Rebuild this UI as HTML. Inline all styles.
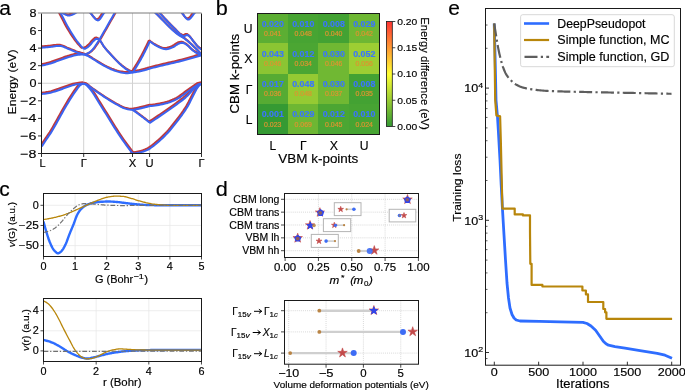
<!DOCTYPE html>
<html><head><meta charset="utf-8"><title>Figure</title>
<style>
html,body{margin:0;padding:0;background:#fff;overflow:hidden;}
svg{display:block;font-family:"Liberation Sans", sans-serif;will-change:transform;}
text{stroke:#000;stroke-width:0.16px;}
</style></head>
<body>
<svg width="685" height="390" viewBox="0 0 685 390">
<rect x="0" y="0" width="685" height="390" fill="#fff"/>
<defs><clipPath id="ca"><rect x="41.50" y="13.00" width="160.00" height="140.50"/></clipPath></defs>
<line x1="83.70" y1="13.00" x2="83.70" y2="153.50" stroke="#d2d2d2" stroke-width="1.0"/>
<line x1="132.50" y1="13.00" x2="132.50" y2="153.50" stroke="#d2d2d2" stroke-width="1.0"/>
<line x1="149.60" y1="13.00" x2="149.60" y2="153.50" stroke="#d2d2d2" stroke-width="1.0"/>
<line x1="41.50" y1="83.25" x2="201.50" y2="83.25" stroke="#d2d2d2" stroke-width="1.0"/>
<g clip-path="url(#ca)">
<path d="M40.95,145.29 L42.41,143.04 L43.86,140.81 L45.32,138.62 L46.77,136.50 L48.23,134.40 L49.68,132.22 L51.14,129.88 L52.59,127.41 L54.05,124.85 L55.50,122.24 L56.96,119.64 L58.41,117.06 L59.87,114.44 L61.32,111.81 L62.78,109.21 L64.23,106.67 L65.69,104.19 L67.14,101.77 L68.60,99.40 L70.05,97.09 L71.51,94.81 L72.96,92.58 L74.42,90.45 L75.87,88.45 L77.33,86.38 L78.78,84.59 L80.24,83.51 L81.69,82.82 L83.15,82.50" fill="none" stroke="#c0393b" stroke-width="2.1" stroke-linejoin="round" stroke-linecap="butt" stroke-linecap="round"/>
<path d="M40.95,92.77 L42.41,92.67 L43.86,92.51 L45.32,92.32 L46.77,92.09 L48.23,91.85 L49.68,91.56 L51.14,91.19 L52.59,90.76 L54.05,90.30 L55.50,89.82 L56.96,89.33 L58.41,88.86 L59.87,88.35 L61.32,87.81 L62.78,87.27 L64.23,86.74 L65.69,86.23 L67.14,85.75 L68.60,85.24 L70.05,84.72 L71.51,84.24 L72.96,83.80 L74.42,83.46 L75.87,83.21 L77.33,83.00 L78.78,82.81 L80.24,82.65 L81.69,82.55 L83.15,82.50" fill="none" stroke="#c0393b" stroke-width="2.1" stroke-linejoin="round" stroke-linecap="butt" stroke-linecap="round"/>
<path d="M84.95,83.00 L86.63,83.88 L88.32,85.33 L90.00,87.26 L91.68,89.25 L93.36,91.57 L95.05,94.16 L96.73,96.89 L98.41,99.68 L100.09,102.41 L101.78,105.11 L103.46,107.81 L105.14,110.49 L106.83,113.17 L108.51,115.86 L110.19,118.57 L111.87,121.31 L113.56,124.04 L115.24,126.74 L116.92,129.40 L118.61,131.99 L120.29,134.53 L121.97,137.03 L123.65,139.48 L125.34,141.88 L127.02,144.21 L128.70,146.48 L130.38,148.71 L132.07,150.87 L133.75,152.99" fill="none" stroke="#c0393b" stroke-width="2.1" stroke-linejoin="round" stroke-linecap="butt" stroke-linecap="round"/>
<path d="M131.95,152.49 L132.54,152.44 L133.13,152.39 L133.72,152.32 L134.31,152.25 L134.90,152.16 L135.49,152.06 L136.08,151.96 L136.67,151.85 L137.26,151.73 L137.85,151.60 L138.44,151.47 L139.03,151.34 L139.62,151.20 L140.21,151.05 L140.79,150.91 L141.38,150.74 L141.97,150.57 L142.56,150.37 L143.15,150.16 L143.74,149.94 L144.33,149.71 L144.92,149.47 L145.51,149.21 L146.10,148.94 L146.69,148.67 L147.28,148.38 L147.87,148.09 L148.46,147.79 L149.05,147.48 L149.05,147.31 L150.84,146.09 L152.63,144.78 L154.42,143.39 L156.21,141.90 L158.00,140.35 L159.79,138.72 L161.58,137.04 L163.37,135.30 L165.16,133.51 L166.95,131.65 L168.74,129.64 L170.53,127.51 L172.32,125.28 L174.11,123.00 L175.89,120.68 L177.68,118.37 L179.47,116.03 L181.26,113.63 L183.05,111.11 L184.84,108.44 L186.63,105.57 L188.42,102.29 L190.21,98.75 L192.00,95.21 L193.79,91.66 L195.58,88.10 L197.37,85.52 L199.16,83.69 L200.95,82.50" fill="none" stroke="#c0393b" stroke-width="2.1" stroke-linejoin="round" stroke-linecap="butt" stroke-linecap="round"/>
<path d="M83.15,82.50 L84.83,83.00 L86.52,83.75 L88.20,84.86 L89.88,86.26 L91.56,87.53 L93.25,88.77 L94.93,89.97 L96.61,91.12 L98.29,92.26 L99.98,93.39 L101.66,94.53 L103.34,95.66 L105.03,96.76 L106.71,97.84 L108.39,98.89 L110.07,99.94 L111.76,100.96 L113.44,101.95 L115.12,102.91 L116.81,103.82 L118.49,104.77 L120.17,105.71 L121.85,106.56 L123.54,107.25 L125.22,107.72 L126.90,108.13 L128.58,108.47 L130.27,108.72 L131.95,108.84 L131.95,108.84 L132.54,108.74 L133.13,108.62 L133.72,108.51 L134.31,108.40 L134.90,108.28 L135.49,108.16 L136.08,108.04 L136.67,107.92 L137.26,107.79 L137.85,107.67 L138.44,107.54 L139.03,107.41 L139.62,107.28 L140.21,107.14 L140.79,107.01 L141.38,106.87 L141.97,106.73 L142.56,106.59 L143.15,106.45 L143.74,106.30 L144.33,106.15 L144.92,106.00 L145.51,105.85 L146.10,105.69 L146.69,105.54 L147.28,105.38 L147.87,105.22 L148.46,105.06 L149.05,104.89 L149.05,104.89 L150.84,104.81 L152.63,104.65 L154.42,104.43 L156.21,104.15 L158.00,103.83 L159.79,103.47 L161.58,103.07 L163.37,102.66 L165.16,102.23 L166.95,101.76 L168.74,101.19 L170.53,100.52 L172.32,99.77 L174.11,98.95 L175.89,98.07 L177.68,97.07 L179.47,95.90 L181.26,94.62 L183.05,93.28 L184.84,91.94 L186.63,90.66 L188.42,89.38 L190.21,88.08 L192.00,86.79 L193.79,85.56 L195.58,84.35 L197.37,83.24 L199.16,82.72 L200.95,82.50" fill="none" stroke="#c0393b" stroke-width="2.1" stroke-linejoin="round" stroke-linecap="butt" stroke-linecap="round"/>
<path d="M131.95,108.84 L132.54,109.26 L133.13,109.67 L133.72,110.09 L134.31,110.51 L134.90,110.93 L135.49,111.35 L136.08,111.77 L136.67,112.20 L137.26,112.63 L137.85,113.06 L138.44,113.49 L139.03,113.93 L139.62,114.37 L140.21,114.81 L140.79,115.25 L141.38,115.69 L141.97,116.14 L142.56,116.59 L143.15,117.04 L143.74,117.49 L144.33,117.95 L144.92,118.40 L145.51,118.86 L146.10,119.32 L146.69,119.79 L147.28,120.25 L147.87,120.72 L148.46,121.19 L149.05,121.66 L149.05,121.66 L150.84,120.49 L152.63,119.31 L154.42,118.12 L156.21,116.92 L158.00,115.72 L159.79,114.51 L161.58,113.29 L163.37,112.06 L165.16,110.83 L166.95,109.60 L168.74,108.37 L170.53,107.13 L172.32,105.87 L174.11,104.59 L175.89,103.27 L177.68,101.92 L179.47,100.57 L181.26,99.19 L183.05,97.75 L184.84,96.23 L186.63,94.61 L188.42,92.76 L190.21,90.77 L192.00,88.80 L193.79,87.00 L195.58,85.20 L197.37,83.76 L199.16,82.95 L200.95,82.50" fill="none" stroke="#c0393b" stroke-width="2.1" stroke-linejoin="round" stroke-linecap="butt" stroke-linecap="round"/>
<path d="M83.15,187.88 L84.83,187.63 L86.52,187.27 L88.20,186.80 L89.88,186.23 L91.56,185.57 L93.25,184.82 L94.93,184.00 L96.61,183.10 L98.29,182.14 L99.98,181.13 L101.66,180.06 L103.34,178.96 L105.03,177.82 L106.71,176.65 L108.39,175.46 L110.07,174.23 L111.76,172.72 L113.44,170.93 L115.12,168.94 L116.81,166.83 L118.49,164.69 L120.17,162.59 L121.85,160.62 L123.54,158.86 L125.22,157.36 L126.90,156.00 L128.58,154.73 L130.27,153.56 L131.95,152.49" fill="none" stroke="#c0393b" stroke-width="2.1" stroke-linejoin="round" stroke-linecap="butt" stroke-linecap="round"/>
<path d="M40.95,64.41 L42.41,64.12 L43.86,63.80 L45.32,63.46 L46.77,63.10 L48.23,62.71 L49.68,62.30 L51.14,61.84 L52.59,61.34 L54.05,60.82 L55.50,60.28 L56.96,59.75 L58.41,59.22 L59.87,58.71 L61.32,58.18 L62.78,57.64 L64.23,57.11 L65.69,56.60 L67.14,56.13 L68.60,55.71 L70.05,55.28 L71.51,54.84 L72.96,54.43 L74.42,54.06 L75.87,53.76 L77.33,53.57 L78.78,53.48 L80.24,53.41 L81.69,53.36 L83.15,53.35" fill="none" stroke="#c0393b" stroke-width="2.1" stroke-linejoin="round" stroke-linecap="butt" stroke-linecap="round"/>
<path d="M40.95,46.50 L42.41,46.38 L43.86,46.26 L45.32,46.14 L46.77,46.01 L48.23,45.87 L49.68,45.73 L51.14,45.54 L52.59,45.33 L54.05,45.12 L55.50,44.94 L56.96,44.80 L58.41,44.74 L59.87,44.84 L61.32,45.18 L62.78,45.69 L64.23,46.31 L65.69,46.99 L67.14,47.64 L68.60,48.21 L70.05,48.77 L71.51,49.36 L72.96,49.96 L74.42,50.55 L75.87,51.12 L77.33,51.65 L78.78,52.12 L80.24,52.56 L81.69,52.97 L83.15,53.35" fill="none" stroke="#c0393b" stroke-width="2.1" stroke-linejoin="round" stroke-linecap="butt" stroke-linecap="round"/>
<path d="M40.00,-13.64 L41.46,-12.47 L42.91,-11.15 L44.37,-9.68 L45.82,-8.09 L47.28,-6.38 L48.73,-4.57 L50.19,-2.55 L51.64,-0.30 L53.10,2.12 L54.55,4.67 L56.01,7.29 L57.46,9.93 L58.92,12.55 L60.37,15.22 L61.83,18.03 L63.28,20.89 L64.74,23.71 L66.19,26.41 L67.65,28.91 L69.10,31.29 L70.56,33.61 L72.01,35.85 L73.47,38.00 L74.92,40.04 L76.38,41.95 L77.83,43.74 L79.29,45.39 L80.74,46.93 L82.20,48.35" fill="none" stroke="#c0393b" stroke-width="2.1" stroke-linejoin="round" stroke-linecap="butt" stroke-linecap="round"/>
<path d="M83.15,47.90 L84.83,47.34 L86.52,46.35 L88.20,44.91 L89.88,43.14 L91.56,40.96 L93.25,39.27 L94.93,37.87 L96.61,37.64 L98.29,38.50 L99.98,40.25 L101.66,43.05 L103.34,45.78 L105.03,47.90 L106.71,49.88 L108.39,51.77 L110.07,53.58 L111.76,55.37 L113.44,57.16 L115.12,58.95 L116.81,60.69 L118.49,62.36 L120.17,63.91 L121.85,65.33 L123.54,66.69 L125.22,67.93 L126.90,69.02 L128.58,69.92 L130.27,70.71 L131.95,71.35" fill="none" stroke="#c0393b" stroke-width="2.1" stroke-linejoin="round" stroke-linecap="butt" stroke-linecap="round"/>
<path d="M84.90,54.20 L86.15,53.97 L87.40,53.58 L88.66,53.08 L89.91,52.36 L91.16,51.43 L92.41,50.35 L93.66,49.11 L94.91,47.49 L96.17,45.67 L97.42,43.84 L98.67,41.91 L99.92,39.90 L101.17,37.84 L102.42,35.71 L103.68,33.52 L104.93,31.31 L106.18,29.12 L107.43,26.92 L108.68,24.72 L109.93,22.52 L111.19,20.32 L112.44,18.13 L113.69,15.93 L114.94,13.74 L116.19,11.54 L117.44,9.33 L118.70,7.09 L119.95,4.83 L121.20,2.56" fill="none" stroke="#c0393b" stroke-width="2.1" stroke-linejoin="round" stroke-linecap="butt" stroke-linecap="round"/>
<path d="M83.15,53.35 L84.83,53.89 L86.52,54.56 L88.20,55.38 L89.88,56.38 L91.56,57.48 L93.25,58.57 L94.93,59.60 L96.61,60.65 L98.29,61.70 L99.98,62.72 L101.66,63.71 L103.34,64.64 L105.03,65.56 L106.71,66.46 L108.39,67.30 L110.07,68.07 L111.76,68.74 L113.44,69.36 L115.12,69.95 L116.81,70.49 L118.49,70.95 L120.17,71.32 L121.85,71.59 L123.54,71.84 L125.22,72.01 L126.90,72.05 L128.58,71.94 L130.27,71.70 L131.95,71.35" fill="none" stroke="#c0393b" stroke-width="2.1" stroke-linejoin="round" stroke-linecap="butt" stroke-linecap="round"/>
<path d="M131.95,71.35 L132.54,70.47 L133.13,69.59 L133.72,68.68 L134.31,67.76 L134.90,66.83 L135.49,65.88 L136.08,64.92 L136.67,63.94 L137.26,62.95 L137.85,61.95 L138.44,60.93 L139.03,59.90 L139.62,58.85 L140.21,57.79 L140.79,56.72 L141.38,55.63 L141.97,54.52 L142.56,53.40 L143.15,52.26 L143.74,51.11 L144.33,49.94 L144.92,48.76 L145.51,47.57 L146.10,46.36 L146.69,45.13 L147.28,43.89 L147.87,42.64 L148.46,41.37 L149.05,40.09" fill="none" stroke="#c0393b" stroke-width="2.1" stroke-linejoin="round" stroke-linecap="butt" stroke-linecap="round"/>
<path d="M131.95,71.35 L132.54,71.27 L133.13,71.19 L133.72,71.11 L134.31,71.02 L134.90,70.93 L135.49,70.83 L136.08,70.73 L136.67,70.62 L137.26,70.51 L137.85,70.40 L138.44,70.28 L139.03,70.16 L139.62,70.04 L140.21,69.91 L140.79,69.78 L141.38,69.64 L141.97,69.50 L142.56,69.35 L143.15,69.19 L143.74,69.03 L144.33,68.87 L144.92,68.70 L145.51,68.53 L146.10,68.35 L146.69,68.17 L147.28,67.98 L147.87,67.79 L148.46,67.60 L149.05,67.40" fill="none" stroke="#c0393b" stroke-width="2.1" stroke-linejoin="round" stroke-linecap="butt" stroke-linecap="round"/>
<path d="M149.05,40.09 L150.84,41.52 L152.63,42.84 L154.42,44.01 L156.21,45.02 L158.00,45.87 L159.79,46.69 L161.58,47.43 L163.37,47.94 L165.16,48.07 L166.95,47.81 L168.74,47.29 L170.53,46.66 L172.32,45.95 L174.11,44.87 L175.89,43.64 L177.68,42.58 L179.47,41.98 L181.26,41.67 L183.05,42.07 L184.84,43.07 L186.63,44.23 L188.42,45.85 L190.21,47.67 L192.00,49.37 L193.79,50.65 L195.58,51.69 L197.37,52.60 L199.16,53.37 L200.95,53.96" fill="none" stroke="#c0393b" stroke-width="2.1" stroke-linejoin="round" stroke-linecap="butt" stroke-linecap="round"/>
<path d="M149.05,67.40 L150.84,66.95 L152.63,66.50 L154.42,66.06 L156.21,65.62 L158.00,65.18 L159.79,64.74 L161.58,64.31 L163.37,63.88 L165.16,63.46 L166.95,63.04 L168.74,62.64 L170.53,62.23 L172.32,61.83 L174.11,61.42 L175.89,61.00 L177.68,60.57 L179.47,60.13 L181.26,59.67 L183.05,59.20 L184.84,58.72 L186.63,58.23 L188.42,57.73 L190.21,57.22 L192.00,56.70 L193.79,56.17 L195.58,55.63 L197.37,55.08 L199.16,54.53 L200.95,53.96" fill="none" stroke="#c0393b" stroke-width="2.1" stroke-linejoin="round" stroke-linecap="butt" stroke-linecap="round"/>
<path d="M151.45,8.74 L153.16,10.36 L154.86,12.01 L156.57,13.71 L158.28,15.43 L159.98,17.17 L161.69,18.91 L163.40,20.63 L165.11,22.38 L166.81,24.14 L168.52,25.85 L170.23,27.49 L171.93,29.03 L173.64,30.55 L175.35,32.00 L177.05,33.35 L178.76,34.56 L180.47,35.55 L182.17,36.48 L183.88,37.63 L185.59,38.95 L187.29,40.39 L189.00,41.89 L190.71,43.41 L192.42,45.02 L194.12,46.68 L195.83,48.37 L197.54,50.10 L199.24,51.88 L200.95,53.70" fill="none" stroke="#c0393b" stroke-width="2.1" stroke-linejoin="round" stroke-linecap="butt" stroke-linecap="round"/>
<path d="M155.45,8.74 L157.02,10.27 L158.59,11.84 L160.16,13.45 L161.73,15.09 L163.29,16.75 L164.86,18.41 L166.43,20.06 L168.00,21.68 L169.57,23.30 L171.14,24.90 L172.71,26.49 L174.28,28.04 L175.85,29.61 L177.42,31.27 L178.98,32.82 L180.55,33.99 L182.12,34.76 L183.69,35.05 L185.26,34.10 L186.83,33.94 L188.40,35.04 L189.97,36.60 L191.54,38.67 L193.11,40.80 L194.67,42.76 L196.24,44.69 L197.81,46.30 L199.38,47.62 L200.95,48.69" fill="none" stroke="#c0393b" stroke-width="2.1" stroke-linejoin="round" stroke-linecap="butt" stroke-linecap="round"/>
<path d="M57.45,6.98 L58.21,8.00 L58.97,8.96 L59.73,9.86 L60.48,10.67 L61.24,11.37 L62.00,11.96 L62.76,12.43 L63.52,12.87 L64.28,13.29 L65.04,13.67 L65.79,14.00 L66.55,14.25 L67.31,14.40 L68.07,14.44 L68.83,14.38 L69.59,14.22 L70.35,13.98 L71.11,13.69 L71.86,13.35 L72.62,12.98 L73.38,12.59 L74.14,12.20 L74.90,11.77 L75.66,11.26 L76.42,10.68 L77.17,10.04 L77.93,9.36 L78.69,8.62 L79.45,7.86" fill="none" stroke="#c0393b" stroke-width="2.1" stroke-linejoin="round" stroke-linecap="butt" stroke-linecap="round"/>
<path d="M85.45,6.98 L86.21,7.92 L86.97,8.84 L87.73,9.74 L88.48,10.62 L89.24,11.48 L90.00,12.31 L90.76,13.18 L91.52,14.13 L92.28,15.12 L93.04,16.10 L93.79,17.02 L94.55,17.83 L95.31,18.51 L96.07,19.00 L96.83,19.25 L97.59,19.20 L98.35,18.73 L99.11,17.94 L99.86,16.90 L100.62,15.73 L101.38,14.51 L102.14,13.34 L102.90,12.31 L103.66,11.41 L104.42,10.52 L105.17,9.63 L105.93,8.74 L106.69,7.86 L107.45,6.98" fill="none" stroke="#c0393b" stroke-width="2.1" stroke-linejoin="round" stroke-linecap="butt" stroke-linecap="round"/>
<path d="M177.45,6.98 L178.14,7.96 L178.83,8.92 L179.52,9.84 L180.21,10.74 L180.90,11.59 L181.59,12.41 L182.28,13.28 L182.97,14.21 L183.66,15.16 L184.35,16.07 L185.04,16.89 L185.73,17.58 L186.42,18.08 L187.11,18.36 L187.79,18.36 L188.48,18.08 L189.17,17.58 L189.86,16.89 L190.55,16.07 L191.24,15.16 L191.93,14.21 L192.62,13.28 L193.31,12.41 L194.00,11.59 L194.69,10.74 L195.38,9.84 L196.07,8.92 L196.76,7.96 L197.45,6.98" fill="none" stroke="#c0393b" stroke-width="2.1" stroke-linejoin="round" stroke-linecap="butt" stroke-linecap="round"/>
<path d="M41.80,146.44 L43.26,144.19 L44.71,141.96 L46.17,139.77 L47.62,137.65 L49.08,135.55 L50.53,133.37 L51.99,131.03 L53.44,128.56 L54.90,126.00 L56.35,123.39 L57.81,120.79 L59.26,118.21 L60.72,115.59 L62.17,112.96 L63.63,110.36 L65.08,107.82 L66.54,105.34 L67.99,102.92 L69.45,100.55 L70.90,98.24 L72.36,95.96 L73.81,93.73 L75.27,91.60 L76.72,89.60 L78.18,87.53 L79.63,85.74 L81.09,84.66 L82.54,83.97 L84.00,83.65" fill="none" stroke="#3b63f0" stroke-width="2.0" stroke-linejoin="round" stroke-linecap="butt" stroke-linecap="round"/>
<path d="M41.80,93.92 L43.26,93.82 L44.71,93.66 L46.17,93.47 L47.62,93.24 L49.08,93.00 L50.53,92.71 L51.99,92.34 L53.44,91.91 L54.90,91.45 L56.35,90.97 L57.81,90.48 L59.26,90.01 L60.72,89.50 L62.17,88.96 L63.63,88.42 L65.08,87.89 L66.54,87.38 L67.99,86.90 L69.45,86.39 L70.90,85.87 L72.36,85.39 L73.81,84.95 L75.27,84.61 L76.72,84.36 L78.18,84.15 L79.63,83.96 L81.09,83.80 L82.54,83.70 L84.00,83.65" fill="none" stroke="#3b63f0" stroke-width="2.0" stroke-linejoin="round" stroke-linecap="butt" stroke-linecap="round"/>
<path d="M84.00,83.65 L85.68,84.53 L87.37,85.98 L89.05,87.91 L90.73,89.90 L92.41,92.22 L94.10,94.81 L95.78,97.54 L97.46,100.33 L99.14,103.06 L100.83,105.76 L102.51,108.46 L104.19,111.14 L105.88,113.82 L107.56,116.51 L109.24,119.22 L110.92,121.96 L112.61,124.69 L114.29,127.39 L115.97,130.05 L117.66,132.64 L119.34,135.18 L121.02,137.68 L122.70,140.13 L124.39,142.53 L126.07,144.86 L127.75,147.13 L129.43,149.36 L131.12,151.52 L132.80,153.64" fill="none" stroke="#3b63f0" stroke-width="2.0" stroke-linejoin="round" stroke-linecap="butt" stroke-linecap="round"/>
<path d="M132.80,153.64 L133.39,153.59 L133.98,153.54 L134.57,153.47 L135.16,153.40 L135.75,153.31 L136.34,153.21 L136.93,153.11 L137.52,153.00 L138.11,152.88 L138.70,152.75 L139.29,152.62 L139.88,152.49 L140.47,152.35 L141.06,152.20 L141.64,152.06 L142.23,151.89 L142.82,151.72 L143.41,151.52 L144.00,151.31 L144.59,151.09 L145.18,150.86 L145.77,150.62 L146.36,150.36 L146.95,150.09 L147.54,149.82 L148.13,149.53 L148.72,149.24 L149.31,148.94 L149.90,148.63 L149.90,148.46 L151.69,147.24 L153.48,145.93 L155.27,144.54 L157.06,143.05 L158.85,141.50 L160.64,139.87 L162.43,138.19 L164.22,136.45 L166.01,134.66 L167.80,132.80 L169.59,130.79 L171.38,128.66 L173.17,126.43 L174.96,124.15 L176.74,121.83 L178.53,119.52 L180.32,117.18 L182.11,114.78 L183.90,112.26 L185.69,109.59 L187.48,106.72 L189.27,103.44 L191.06,99.90 L192.85,96.36 L194.64,92.81 L196.43,89.25 L198.22,86.67 L200.01,84.84 L201.80,83.65" fill="none" stroke="#3b63f0" stroke-width="2.0" stroke-linejoin="round" stroke-linecap="butt" stroke-linecap="round"/>
<path d="M84.00,83.65 L85.68,84.15 L87.37,84.90 L89.05,86.01 L90.73,87.41 L92.41,88.68 L94.10,89.92 L95.78,91.12 L97.46,92.27 L99.14,93.41 L100.83,94.54 L102.51,95.68 L104.19,96.81 L105.88,97.91 L107.56,98.99 L109.24,100.04 L110.92,101.09 L112.61,102.11 L114.29,103.10 L115.97,104.06 L117.66,104.97 L119.34,105.92 L121.02,106.86 L122.70,107.71 L124.39,108.40 L126.07,108.87 L127.75,109.28 L129.43,109.62 L131.12,109.87 L132.80,109.99 L132.80,109.99 L133.39,109.89 L133.98,109.77 L134.57,109.66 L135.16,109.55 L135.75,109.43 L136.34,109.31 L136.93,109.19 L137.52,109.07 L138.11,108.94 L138.70,108.82 L139.29,108.69 L139.88,108.56 L140.47,108.43 L141.06,108.29 L141.64,108.16 L142.23,108.02 L142.82,107.88 L143.41,107.74 L144.00,107.60 L144.59,107.45 L145.18,107.30 L145.77,107.15 L146.36,107.00 L146.95,106.84 L147.54,106.69 L148.13,106.53 L148.72,106.37 L149.31,106.21 L149.90,106.04 L149.90,106.04 L151.69,105.96 L153.48,105.80 L155.27,105.58 L157.06,105.30 L158.85,104.98 L160.64,104.62 L162.43,104.22 L164.22,103.81 L166.01,103.38 L167.80,102.91 L169.59,102.34 L171.38,101.67 L173.17,100.92 L174.96,100.10 L176.74,99.22 L178.53,98.22 L180.32,97.05 L182.11,95.77 L183.90,94.43 L185.69,93.09 L187.48,91.81 L189.27,90.53 L191.06,89.23 L192.85,87.94 L194.64,86.71 L196.43,85.50 L198.22,84.39 L200.01,83.87 L201.80,83.65" fill="none" stroke="#3b63f0" stroke-width="2.0" stroke-linejoin="round" stroke-linecap="butt" stroke-linecap="round"/>
<path d="M132.80,109.99 L133.39,110.41 L133.98,110.82 L134.57,111.24 L135.16,111.66 L135.75,112.08 L136.34,112.50 L136.93,112.92 L137.52,113.35 L138.11,113.78 L138.70,114.21 L139.29,114.64 L139.88,115.08 L140.47,115.52 L141.06,115.96 L141.64,116.40 L142.23,116.84 L142.82,117.29 L143.41,117.74 L144.00,118.19 L144.59,118.64 L145.18,119.10 L145.77,119.55 L146.36,120.01 L146.95,120.47 L147.54,120.94 L148.13,121.40 L148.72,121.87 L149.31,122.34 L149.90,122.81 L149.90,122.81 L151.69,121.64 L153.48,120.46 L155.27,119.27 L157.06,118.07 L158.85,116.87 L160.64,115.66 L162.43,114.44 L164.22,113.21 L166.01,111.98 L167.80,110.75 L169.59,109.52 L171.38,108.28 L173.17,107.02 L174.96,105.74 L176.74,104.42 L178.53,103.07 L180.32,101.72 L182.11,100.34 L183.90,98.90 L185.69,97.38 L187.48,95.76 L189.27,93.91 L191.06,91.92 L192.85,89.95 L194.64,88.15 L196.43,86.35 L198.22,84.91 L200.01,84.10 L201.80,83.65" fill="none" stroke="#3b63f0" stroke-width="2.0" stroke-linejoin="round" stroke-linecap="butt" stroke-linecap="round"/>
<path d="M84.00,189.03 L85.68,188.78 L87.37,188.42 L89.05,187.95 L90.73,187.38 L92.41,186.72 L94.10,185.97 L95.78,185.15 L97.46,184.25 L99.14,183.29 L100.83,182.28 L102.51,181.21 L104.19,180.11 L105.88,178.97 L107.56,177.80 L109.24,176.61 L110.92,175.38 L112.61,173.87 L114.29,172.08 L115.97,170.09 L117.66,167.98 L119.34,165.84 L121.02,163.74 L122.70,161.77 L124.39,160.01 L126.07,158.51 L127.75,157.15 L129.43,155.88 L131.12,154.71 L132.80,153.64" fill="none" stroke="#3b63f0" stroke-width="2.0" stroke-linejoin="round" stroke-linecap="butt" stroke-linecap="round"/>
<path d="M41.80,65.56 L43.26,65.27 L44.71,64.95 L46.17,64.61 L47.62,64.25 L49.08,63.86 L50.53,63.45 L51.99,62.99 L53.44,62.49 L54.90,61.97 L56.35,61.43 L57.81,60.90 L59.26,60.37 L60.72,59.86 L62.17,59.33 L63.63,58.79 L65.08,58.26 L66.54,57.75 L67.99,57.28 L69.45,56.86 L70.90,56.43 L72.36,55.99 L73.81,55.58 L75.27,55.21 L76.72,54.91 L78.18,54.72 L79.63,54.63 L81.09,54.56 L82.54,54.51 L84.00,54.50" fill="none" stroke="#3b63f0" stroke-width="2.0" stroke-linejoin="round" stroke-linecap="butt" stroke-linecap="round"/>
<path d="M41.80,47.65 L43.26,47.53 L44.71,47.41 L46.17,47.29 L47.62,47.16 L49.08,47.02 L50.53,46.88 L51.99,46.69 L53.44,46.48 L54.90,46.27 L56.35,46.09 L57.81,45.95 L59.26,45.89 L60.72,45.99 L62.17,46.33 L63.63,46.84 L65.08,47.46 L66.54,48.14 L67.99,48.79 L69.45,49.36 L70.90,49.92 L72.36,50.51 L73.81,51.11 L75.27,51.70 L76.72,52.27 L78.18,52.80 L79.63,53.27 L81.09,53.71 L82.54,54.12 L84.00,54.50" fill="none" stroke="#3b63f0" stroke-width="2.0" stroke-linejoin="round" stroke-linecap="butt" stroke-linecap="round"/>
<path d="M41.80,-12.94 L43.26,-11.77 L44.71,-10.45 L46.17,-8.98 L47.62,-7.39 L49.08,-5.68 L50.53,-3.87 L51.99,-1.85 L53.44,0.40 L54.90,2.82 L56.35,5.37 L57.81,7.99 L59.26,10.63 L60.72,13.25 L62.17,15.92 L63.63,18.73 L65.08,21.59 L66.54,24.41 L67.99,27.11 L69.45,29.61 L70.90,31.99 L72.36,34.31 L73.81,36.55 L75.27,38.70 L76.72,40.74 L78.18,42.65 L79.63,44.44 L81.09,46.09 L82.54,47.63 L84.00,49.05" fill="none" stroke="#3b63f0" stroke-width="2.0" stroke-linejoin="round" stroke-linecap="butt" stroke-linecap="round"/>
<path d="M84.00,49.05 L85.68,48.49 L87.37,47.50 L89.05,46.06 L90.73,44.29 L92.41,42.11 L94.10,40.42 L95.78,39.02 L97.46,38.79 L99.14,39.65 L100.83,41.40 L102.51,44.20 L104.19,46.93 L105.88,49.05 L107.56,51.03 L109.24,52.92 L110.92,54.73 L112.61,56.52 L114.29,58.31 L115.97,60.10 L117.66,61.84 L119.34,63.51 L121.02,65.06 L122.70,66.48 L124.39,67.84 L126.07,69.08 L127.75,70.17 L129.43,71.07 L131.12,71.86 L132.80,72.50" fill="none" stroke="#3b63f0" stroke-width="2.0" stroke-linejoin="round" stroke-linecap="butt" stroke-linecap="round"/>
<path d="M84.00,54.50 L85.25,54.27 L86.50,53.88 L87.76,53.38 L89.01,52.66 L90.26,51.73 L91.51,50.65 L92.76,49.41 L94.01,47.79 L95.27,45.97 L96.52,44.14 L97.77,42.21 L99.02,40.20 L100.27,38.14 L101.52,36.01 L102.78,33.82 L104.03,31.61 L105.28,29.42 L106.53,27.22 L107.78,25.02 L109.03,22.82 L110.29,20.62 L111.54,18.43 L112.79,16.23 L114.04,14.04 L115.29,11.84 L116.54,9.63 L117.80,7.39 L119.05,5.13 L120.30,2.86" fill="none" stroke="#3b63f0" stroke-width="2.0" stroke-linejoin="round" stroke-linecap="butt" stroke-linecap="round"/>
<path d="M84.00,54.50 L85.68,55.04 L87.37,55.71 L89.05,56.53 L90.73,57.53 L92.41,58.63 L94.10,59.72 L95.78,60.75 L97.46,61.80 L99.14,62.85 L100.83,63.87 L102.51,64.86 L104.19,65.79 L105.88,66.71 L107.56,67.61 L109.24,68.45 L110.92,69.22 L112.61,69.89 L114.29,70.51 L115.97,71.10 L117.66,71.64 L119.34,72.10 L121.02,72.47 L122.70,72.74 L124.39,72.99 L126.07,73.16 L127.75,73.20 L129.43,73.09 L131.12,72.85 L132.80,72.50" fill="none" stroke="#3b63f0" stroke-width="2.0" stroke-linejoin="round" stroke-linecap="butt" stroke-linecap="round"/>
<path d="M132.80,72.50 L133.39,71.62 L133.98,70.74 L134.57,69.83 L135.16,68.91 L135.75,67.98 L136.34,67.03 L136.93,66.07 L137.52,65.09 L138.11,64.10 L138.70,63.10 L139.29,62.08 L139.88,61.05 L140.47,60.00 L141.06,58.94 L141.64,57.87 L142.23,56.78 L142.82,55.67 L143.41,54.55 L144.00,53.41 L144.59,52.26 L145.18,51.09 L145.77,49.91 L146.36,48.72 L146.95,47.51 L147.54,46.28 L148.13,45.04 L148.72,43.79 L149.31,42.52 L149.90,41.24" fill="none" stroke="#3b63f0" stroke-width="2.0" stroke-linejoin="round" stroke-linecap="butt" stroke-linecap="round"/>
<path d="M132.80,72.50 L133.39,72.42 L133.98,72.34 L134.57,72.26 L135.16,72.17 L135.75,72.08 L136.34,71.98 L136.93,71.88 L137.52,71.77 L138.11,71.66 L138.70,71.55 L139.29,71.43 L139.88,71.31 L140.47,71.19 L141.06,71.06 L141.64,70.93 L142.23,70.79 L142.82,70.65 L143.41,70.50 L144.00,70.34 L144.59,70.18 L145.18,70.02 L145.77,69.85 L146.36,69.68 L146.95,69.50 L147.54,69.32 L148.13,69.13 L148.72,68.94 L149.31,68.75 L149.90,68.55" fill="none" stroke="#3b63f0" stroke-width="2.0" stroke-linejoin="round" stroke-linecap="butt" stroke-linecap="round"/>
<path d="M149.90,41.24 L151.69,42.67 L153.48,43.99 L155.27,45.16 L157.06,46.17 L158.85,47.02 L160.64,47.84 L162.43,48.58 L164.22,49.09 L166.01,49.22 L167.80,48.96 L169.59,48.44 L171.38,47.81 L173.17,47.10 L174.96,46.02 L176.74,44.79 L178.53,43.73 L180.32,43.13 L182.11,42.82 L183.90,43.22 L185.69,44.22 L187.48,45.38 L189.27,47.00 L191.06,48.82 L192.85,50.52 L194.64,51.80 L196.43,52.84 L198.22,53.75 L200.01,54.52 L201.80,55.11" fill="none" stroke="#3b63f0" stroke-width="2.0" stroke-linejoin="round" stroke-linecap="butt" stroke-linecap="round"/>
<path d="M149.90,68.55 L151.69,68.10 L153.48,67.65 L155.27,67.21 L157.06,66.77 L158.85,66.33 L160.64,65.89 L162.43,65.46 L164.22,65.03 L166.01,64.61 L167.80,64.19 L169.59,63.79 L171.38,63.38 L173.17,62.98 L174.96,62.57 L176.74,62.15 L178.53,61.72 L180.32,61.28 L182.11,60.82 L183.90,60.35 L185.69,59.87 L187.48,59.38 L189.27,58.88 L191.06,58.37 L192.85,57.85 L194.64,57.32 L196.43,56.78 L198.22,56.23 L200.01,55.68 L201.80,55.11" fill="none" stroke="#3b63f0" stroke-width="2.0" stroke-linejoin="round" stroke-linecap="butt" stroke-linecap="round"/>
<path d="M152.30,9.89 L154.01,11.51 L155.71,13.16 L157.42,14.86 L159.13,16.58 L160.83,18.32 L162.54,20.06 L164.25,21.78 L165.96,23.53 L167.66,25.29 L169.37,27.00 L171.08,28.64 L172.78,30.18 L174.49,31.70 L176.20,33.15 L177.90,34.50 L179.61,35.71 L181.32,36.70 L183.02,37.63 L184.73,38.78 L186.44,40.10 L188.14,41.54 L189.85,43.04 L191.56,44.56 L193.27,46.17 L194.97,47.83 L196.68,49.52 L198.39,51.25 L200.09,53.03 L201.80,54.85" fill="none" stroke="#3b63f0" stroke-width="2.0" stroke-linejoin="round" stroke-linecap="butt" stroke-linecap="round"/>
<path d="M156.30,9.89 L157.87,11.42 L159.44,12.99 L161.01,14.60 L162.58,16.24 L164.14,17.90 L165.71,19.56 L167.28,21.21 L168.85,22.83 L170.42,24.45 L171.99,26.05 L173.56,27.64 L175.13,29.19 L176.70,30.76 L178.27,32.42 L179.83,33.97 L181.40,35.14 L182.97,35.91 L184.54,36.20 L186.11,35.25 L187.68,35.09 L189.25,36.19 L190.82,37.75 L192.39,39.82 L193.96,41.95 L195.52,43.91 L197.09,45.84 L198.66,47.45 L200.23,48.77 L201.80,49.84" fill="none" stroke="#3b63f0" stroke-width="2.0" stroke-linejoin="round" stroke-linecap="butt" stroke-linecap="round"/>
<path d="M58.30,8.13 L59.06,9.15 L59.82,10.11 L60.58,11.01 L61.33,11.82 L62.09,12.52 L62.85,13.11 L63.61,13.58 L64.37,14.02 L65.13,14.44 L65.89,14.82 L66.64,15.15 L67.40,15.40 L68.16,15.55 L68.92,15.59 L69.68,15.53 L70.44,15.37 L71.20,15.13 L71.96,14.84 L72.71,14.50 L73.47,14.13 L74.23,13.74 L74.99,13.35 L75.75,12.92 L76.51,12.41 L77.27,11.83 L78.02,11.19 L78.78,10.51 L79.54,9.77 L80.30,9.01" fill="none" stroke="#3b63f0" stroke-width="2.0" stroke-linejoin="round" stroke-linecap="butt" stroke-linecap="round"/>
<path d="M86.30,8.13 L87.06,9.07 L87.82,9.99 L88.58,10.89 L89.33,11.77 L90.09,12.63 L90.85,13.46 L91.61,14.33 L92.37,15.28 L93.13,16.27 L93.89,17.25 L94.64,18.17 L95.40,18.98 L96.16,19.66 L96.92,20.15 L97.68,20.40 L98.44,20.35 L99.20,19.88 L99.96,19.09 L100.71,18.05 L101.47,16.88 L102.23,15.66 L102.99,14.49 L103.75,13.46 L104.51,12.56 L105.27,11.67 L106.02,10.78 L106.78,9.89 L107.54,9.01 L108.30,8.13" fill="none" stroke="#3b63f0" stroke-width="2.0" stroke-linejoin="round" stroke-linecap="butt" stroke-linecap="round"/>
<path d="M178.30,8.13 L178.99,9.11 L179.68,10.07 L180.37,10.99 L181.06,11.89 L181.75,12.74 L182.44,13.56 L183.13,14.43 L183.82,15.36 L184.51,16.31 L185.20,17.22 L185.89,18.04 L186.58,18.73 L187.27,19.23 L187.96,19.51 L188.64,19.51 L189.33,19.23 L190.02,18.73 L190.71,18.04 L191.40,17.22 L192.09,16.31 L192.78,15.36 L193.47,14.43 L194.16,13.56 L194.85,12.74 L195.54,11.89 L196.23,10.99 L196.92,10.07 L197.61,9.11 L198.30,8.13" fill="none" stroke="#3b63f0" stroke-width="2.0" stroke-linejoin="round" stroke-linecap="butt" stroke-linecap="round"/>
</g>
<line x1="41.50" y1="13.00" x2="201.50" y2="13.00" stroke="#7a7a7a" stroke-width="1.0"/>
<path d="M41.50,13.50 L41.50,153.50 L201.50,153.50 L201.50,13.50" fill="none" stroke="#1a1a1a" stroke-width="1.0"/>
<line x1="38.00" y1="153.50" x2="41.50" y2="153.50" stroke="#1a1a1a" stroke-width="0.9"/>
<text x="36.40" y="157.50" font-size="11.66" text-anchor="end" textLength="16.22" lengthAdjust="spacingAndGlyphs">−8</text>
<line x1="38.00" y1="135.94" x2="41.50" y2="135.94" stroke="#1a1a1a" stroke-width="0.9"/>
<text x="36.40" y="139.94" font-size="11.66" text-anchor="end" textLength="16.22" lengthAdjust="spacingAndGlyphs">−6</text>
<line x1="38.00" y1="118.38" x2="41.50" y2="118.38" stroke="#1a1a1a" stroke-width="0.9"/>
<text x="36.40" y="122.38" font-size="11.66" text-anchor="end" textLength="16.22" lengthAdjust="spacingAndGlyphs">−4</text>
<line x1="38.00" y1="100.81" x2="41.50" y2="100.81" stroke="#1a1a1a" stroke-width="0.9"/>
<text x="36.40" y="104.81" font-size="11.66" text-anchor="end" textLength="16.22" lengthAdjust="spacingAndGlyphs">−2</text>
<line x1="38.00" y1="83.25" x2="41.50" y2="83.25" stroke="#1a1a1a" stroke-width="0.9"/>
<text x="36.40" y="87.25" font-size="11.66" text-anchor="end" textLength="7.00" lengthAdjust="spacingAndGlyphs">0</text>
<line x1="38.00" y1="65.69" x2="41.50" y2="65.69" stroke="#1a1a1a" stroke-width="0.9"/>
<text x="36.40" y="69.69" font-size="11.66" text-anchor="end" textLength="7.00" lengthAdjust="spacingAndGlyphs">2</text>
<line x1="38.00" y1="48.12" x2="41.50" y2="48.12" stroke="#1a1a1a" stroke-width="0.9"/>
<text x="36.40" y="52.12" font-size="11.66" text-anchor="end" textLength="7.00" lengthAdjust="spacingAndGlyphs">4</text>
<line x1="38.00" y1="30.56" x2="41.50" y2="30.56" stroke="#1a1a1a" stroke-width="0.9"/>
<text x="36.40" y="34.56" font-size="11.66" text-anchor="end" textLength="7.00" lengthAdjust="spacingAndGlyphs">6</text>
<line x1="38.00" y1="13.00" x2="41.50" y2="13.00" stroke="#7a7a7a" stroke-width="0.9"/>
<text x="36.40" y="17.00" font-size="11.66" text-anchor="end" textLength="7.00" lengthAdjust="spacingAndGlyphs">8</text>
<line x1="41.50" y1="153.50" x2="41.50" y2="157.00" stroke="#1a1a1a" stroke-width="0.9"/>
<text x="42.50" y="166.90" font-size="11.66" text-anchor="middle" textLength="6.13" lengthAdjust="spacingAndGlyphs">L</text>
<line x1="83.70" y1="153.50" x2="83.70" y2="157.00" stroke="#1a1a1a" stroke-width="0.9"/>
<text x="83.70" y="166.90" font-size="11.66" text-anchor="middle" textLength="6.13" lengthAdjust="spacingAndGlyphs">Γ</text>
<line x1="132.50" y1="153.50" x2="132.50" y2="157.00" stroke="#1a1a1a" stroke-width="0.9"/>
<text x="132.50" y="166.90" font-size="11.66" text-anchor="middle" textLength="7.54" lengthAdjust="spacingAndGlyphs">X</text>
<line x1="149.60" y1="153.50" x2="149.60" y2="157.00" stroke="#1a1a1a" stroke-width="0.9"/>
<text x="149.60" y="166.90" font-size="11.66" text-anchor="middle" textLength="8.05" lengthAdjust="spacingAndGlyphs">U</text>
<line x1="201.50" y1="153.50" x2="201.50" y2="157.00" stroke="#1a1a1a" stroke-width="0.9"/>
<text x="201.50" y="166.90" font-size="11.66" text-anchor="middle" textLength="6.13" lengthAdjust="spacingAndGlyphs">Γ</text>
<text x="15.90" y="82.00" font-size="11.66" text-anchor="middle" textLength="64.88" lengthAdjust="spacingAndGlyphs" transform="rotate(-90 15.90 82.00)">Energy (eV)</text>
<text x="-0.80" y="15.20" font-size="20.00" textLength="11.64" lengthAdjust="spacingAndGlyphs">a</text>
<rect x="257.20" y="13.20" width="31.10" height="30.85" fill="#5cae33" shape-rendering="crispEdges"/>
<rect x="287.70" y="13.20" width="31.10" height="30.85" fill="#47a433" shape-rendering="crispEdges"/>
<rect x="318.20" y="13.20" width="31.10" height="30.85" fill="#43a233" shape-rendering="crispEdges"/>
<rect x="348.70" y="13.20" width="31.10" height="30.85" fill="#6eb733" shape-rendering="crispEdges"/>
<rect x="257.20" y="43.45" width="31.10" height="30.85" fill="#8bc533" shape-rendering="crispEdges"/>
<rect x="287.70" y="43.45" width="31.10" height="30.85" fill="#4ba633" shape-rendering="crispEdges"/>
<rect x="318.20" y="43.45" width="31.10" height="30.85" fill="#70b833" shape-rendering="crispEdges"/>
<rect x="348.70" y="43.45" width="31.10" height="30.85" fill="#9dce33" shape-rendering="crispEdges"/>
<rect x="257.20" y="73.70" width="31.10" height="30.85" fill="#56ab33" shape-rendering="crispEdges"/>
<rect x="287.70" y="73.70" width="31.10" height="30.85" fill="#95ca33" shape-rendering="crispEdges"/>
<rect x="318.20" y="73.70" width="31.10" height="30.85" fill="#70b833" shape-rendering="crispEdges"/>
<rect x="348.70" y="73.70" width="31.10" height="30.85" fill="#43a233" shape-rendering="crispEdges"/>
<rect x="257.20" y="103.95" width="31.10" height="30.85" fill="#359a33" shape-rendering="crispEdges"/>
<rect x="287.70" y="103.95" width="31.10" height="30.85" fill="#6eb733" shape-rendering="crispEdges"/>
<rect x="318.20" y="103.95" width="31.10" height="30.85" fill="#4ba633" shape-rendering="crispEdges"/>
<rect x="348.70" y="103.95" width="31.10" height="30.85" fill="#47a433" shape-rendering="crispEdges"/>
<text x="272.75" y="26.70" font-size="8.5" font-weight="bold" text-anchor="middle" fill="#3a76ff" style="stroke:#3a76ff;stroke-width:0.15px" textLength="22.14" lengthAdjust="spacingAndGlyphs">0.020</text>
<text x="272.75" y="35.80" font-size="6.6" text-anchor="middle" fill="#dc9530" style="stroke:#dc9530;stroke-width:0.2px" textLength="17.46" lengthAdjust="spacingAndGlyphs">0.041</text>
<text x="303.25" y="26.70" font-size="8.5" font-weight="bold" text-anchor="middle" fill="#3a76ff" style="stroke:#3a76ff;stroke-width:0.15px" textLength="22.14" lengthAdjust="spacingAndGlyphs">0.010</text>
<text x="303.25" y="35.80" font-size="6.6" text-anchor="middle" fill="#dc9530" style="stroke:#dc9530;stroke-width:0.2px" textLength="17.46" lengthAdjust="spacingAndGlyphs">0.048</text>
<text x="333.75" y="26.70" font-size="8.5" font-weight="bold" text-anchor="middle" fill="#3a76ff" style="stroke:#3a76ff;stroke-width:0.15px" textLength="22.14" lengthAdjust="spacingAndGlyphs">0.008</text>
<text x="333.75" y="35.80" font-size="6.6" text-anchor="middle" fill="#dc9530" style="stroke:#dc9530;stroke-width:0.2px" textLength="17.46" lengthAdjust="spacingAndGlyphs">0.040</text>
<text x="364.25" y="26.70" font-size="8.5" font-weight="bold" text-anchor="middle" fill="#3a76ff" style="stroke:#3a76ff;stroke-width:0.15px" textLength="22.14" lengthAdjust="spacingAndGlyphs">0.029</text>
<text x="364.25" y="35.80" font-size="6.6" text-anchor="middle" fill="#dc9530" style="stroke:#dc9530;stroke-width:0.2px" textLength="17.46" lengthAdjust="spacingAndGlyphs">0.042</text>
<text x="272.75" y="56.95" font-size="8.5" font-weight="bold" text-anchor="middle" fill="#3a76ff" style="stroke:#3a76ff;stroke-width:0.15px" textLength="22.14" lengthAdjust="spacingAndGlyphs">0.043</text>
<text x="272.75" y="66.05" font-size="6.6" text-anchor="middle" fill="#dc9530" style="stroke:#dc9530;stroke-width:0.2px" textLength="17.46" lengthAdjust="spacingAndGlyphs">0.046</text>
<text x="303.25" y="56.95" font-size="8.5" font-weight="bold" text-anchor="middle" fill="#3a76ff" style="stroke:#3a76ff;stroke-width:0.15px" textLength="22.14" lengthAdjust="spacingAndGlyphs">0.012</text>
<text x="303.25" y="66.05" font-size="6.6" text-anchor="middle" fill="#dc9530" style="stroke:#dc9530;stroke-width:0.2px" textLength="17.46" lengthAdjust="spacingAndGlyphs">0.034</text>
<text x="333.75" y="56.95" font-size="8.5" font-weight="bold" text-anchor="middle" fill="#3a76ff" style="stroke:#3a76ff;stroke-width:0.15px" textLength="22.14" lengthAdjust="spacingAndGlyphs">0.030</text>
<text x="333.75" y="66.05" font-size="6.6" text-anchor="middle" fill="#dc9530" style="stroke:#dc9530;stroke-width:0.2px" textLength="17.46" lengthAdjust="spacingAndGlyphs">0.046</text>
<text x="364.25" y="56.95" font-size="8.5" font-weight="bold" text-anchor="middle" fill="#3a76ff" style="stroke:#3a76ff;stroke-width:0.15px" textLength="22.14" lengthAdjust="spacingAndGlyphs">0.052</text>
<text x="364.25" y="66.05" font-size="6.6" text-anchor="middle" fill="#dc9530" style="stroke:#dc9530;stroke-width:0.2px" textLength="17.46" lengthAdjust="spacingAndGlyphs">0.056</text>
<text x="272.75" y="87.20" font-size="8.5" font-weight="bold" text-anchor="middle" fill="#3a76ff" style="stroke:#3a76ff;stroke-width:0.15px" textLength="22.14" lengthAdjust="spacingAndGlyphs">0.017</text>
<text x="272.75" y="96.30" font-size="6.6" text-anchor="middle" fill="#dc9530" style="stroke:#dc9530;stroke-width:0.2px" textLength="17.46" lengthAdjust="spacingAndGlyphs">0.036</text>
<text x="303.25" y="87.20" font-size="8.5" font-weight="bold" text-anchor="middle" fill="#3a76ff" style="stroke:#3a76ff;stroke-width:0.15px" textLength="22.14" lengthAdjust="spacingAndGlyphs">0.048</text>
<text x="303.25" y="96.30" font-size="6.6" text-anchor="middle" fill="#dc9530" style="stroke:#dc9530;stroke-width:0.2px" textLength="17.46" lengthAdjust="spacingAndGlyphs">0.048</text>
<text x="333.75" y="87.20" font-size="8.5" font-weight="bold" text-anchor="middle" fill="#3a76ff" style="stroke:#3a76ff;stroke-width:0.15px" textLength="22.14" lengthAdjust="spacingAndGlyphs">0.030</text>
<text x="333.75" y="96.30" font-size="6.6" text-anchor="middle" fill="#dc9530" style="stroke:#dc9530;stroke-width:0.2px" textLength="17.46" lengthAdjust="spacingAndGlyphs">0.037</text>
<text x="364.25" y="87.20" font-size="8.5" font-weight="bold" text-anchor="middle" fill="#3a76ff" style="stroke:#3a76ff;stroke-width:0.15px" textLength="22.14" lengthAdjust="spacingAndGlyphs">0.008</text>
<text x="364.25" y="96.30" font-size="6.6" text-anchor="middle" fill="#dc9530" style="stroke:#dc9530;stroke-width:0.2px" textLength="17.46" lengthAdjust="spacingAndGlyphs">0.035</text>
<text x="272.75" y="117.45" font-size="8.5" font-weight="bold" text-anchor="middle" fill="#3a76ff" style="stroke:#3a76ff;stroke-width:0.15px" textLength="22.14" lengthAdjust="spacingAndGlyphs">0.001</text>
<text x="272.75" y="126.55" font-size="6.6" text-anchor="middle" fill="#dc9530" style="stroke:#dc9530;stroke-width:0.2px" textLength="17.46" lengthAdjust="spacingAndGlyphs">0.023</text>
<text x="303.25" y="117.45" font-size="8.5" font-weight="bold" text-anchor="middle" fill="#3a76ff" style="stroke:#3a76ff;stroke-width:0.15px" textLength="22.14" lengthAdjust="spacingAndGlyphs">0.029</text>
<text x="303.25" y="126.55" font-size="6.6" text-anchor="middle" fill="#dc9530" style="stroke:#dc9530;stroke-width:0.2px" textLength="17.46" lengthAdjust="spacingAndGlyphs">0.069</text>
<text x="333.75" y="117.45" font-size="8.5" font-weight="bold" text-anchor="middle" fill="#3a76ff" style="stroke:#3a76ff;stroke-width:0.15px" textLength="22.14" lengthAdjust="spacingAndGlyphs">0.012</text>
<text x="333.75" y="126.55" font-size="6.6" text-anchor="middle" fill="#dc9530" style="stroke:#dc9530;stroke-width:0.2px" textLength="17.46" lengthAdjust="spacingAndGlyphs">0.045</text>
<text x="364.25" y="117.45" font-size="8.5" font-weight="bold" text-anchor="middle" fill="#3a76ff" style="stroke:#3a76ff;stroke-width:0.15px" textLength="22.14" lengthAdjust="spacingAndGlyphs">0.010</text>
<text x="364.25" y="126.55" font-size="6.6" text-anchor="middle" fill="#dc9530" style="stroke:#dc9530;stroke-width:0.2px" textLength="17.46" lengthAdjust="spacingAndGlyphs">0.024</text>
<rect x="257.50" y="13.50" width="122.00" height="121.00" fill="none" stroke="#1a1a1a" stroke-width="1.0"/>
<text x="272.75" y="149.70" font-size="12.72" text-anchor="middle" textLength="6.69" lengthAdjust="spacingAndGlyphs">L</text>
<text x="303.25" y="149.70" font-size="12.72" text-anchor="middle" textLength="6.69" lengthAdjust="spacingAndGlyphs">Γ</text>
<text x="333.75" y="149.70" font-size="12.72" text-anchor="middle" textLength="8.22" lengthAdjust="spacingAndGlyphs">X</text>
<text x="364.25" y="149.70" font-size="12.72" text-anchor="middle" textLength="8.78" lengthAdjust="spacingAndGlyphs">U</text>
<text x="252.50" y="33.02" font-size="12.72" text-anchor="end" textLength="8.78" lengthAdjust="spacingAndGlyphs">U</text>
<text x="252.50" y="63.27" font-size="12.72" text-anchor="end" textLength="8.22" lengthAdjust="spacingAndGlyphs">X</text>
<text x="252.50" y="93.53" font-size="12.72" text-anchor="end" textLength="6.69" lengthAdjust="spacingAndGlyphs">Γ</text>
<text x="252.50" y="123.78" font-size="12.72" text-anchor="end" textLength="6.69" lengthAdjust="spacingAndGlyphs">L</text>
<text x="318.30" y="163.20" font-size="12.93" text-anchor="middle" textLength="80.06" lengthAdjust="spacingAndGlyphs">VBM k-points</text>
<text x="238.60" y="73.70" font-size="12.83" text-anchor="middle" textLength="79.57" lengthAdjust="spacingAndGlyphs" transform="rotate(-90 238.60 73.70)">CBM k-points</text>
<defs><linearGradient id="cbg" x1="0" y1="1" x2="0" y2="0"><stop offset="0.000" stop-color="#339933"/><stop offset="0.100" stop-color="#5cae33"/><stop offset="0.200" stop-color="#85c233"/><stop offset="0.300" stop-color="#add633"/><stop offset="0.400" stop-color="#d6eb33"/><stop offset="0.500" stop-color="#ffff33"/><stop offset="0.600" stop-color="#ffd633"/><stop offset="0.700" stop-color="#ffad33"/><stop offset="0.800" stop-color="#ff8533"/><stop offset="0.900" stop-color="#ff5c33"/><stop offset="1.000" stop-color="#ff3333"/></linearGradient></defs>
<rect x="386.40" y="21.50" width="5.90" height="105.00" fill="url(#cbg)" stroke="#1a1a1a" stroke-width="0.8"/>
<line x1="392.30" y1="126.50" x2="395.30" y2="126.50" stroke="#1a1a1a" stroke-width="0.8"/>
<text x="397.20" y="129.80" font-size="9.54" textLength="20.04" lengthAdjust="spacingAndGlyphs">0.00</text>
<line x1="392.30" y1="100.25" x2="395.30" y2="100.25" stroke="#1a1a1a" stroke-width="0.8"/>
<text x="397.20" y="103.55" font-size="9.54" textLength="20.04" lengthAdjust="spacingAndGlyphs">0.05</text>
<line x1="392.30" y1="74.00" x2="395.30" y2="74.00" stroke="#1a1a1a" stroke-width="0.8"/>
<text x="397.20" y="77.30" font-size="9.54" textLength="20.04" lengthAdjust="spacingAndGlyphs">0.10</text>
<line x1="392.30" y1="47.75" x2="395.30" y2="47.75" stroke="#1a1a1a" stroke-width="0.8"/>
<text x="397.20" y="51.05" font-size="9.54" textLength="20.04" lengthAdjust="spacingAndGlyphs">0.15</text>
<line x1="392.30" y1="21.50" x2="395.30" y2="21.50" stroke="#1a1a1a" stroke-width="0.8"/>
<text x="397.20" y="24.80" font-size="9.54" textLength="20.04" lengthAdjust="spacingAndGlyphs">0.20</text>
<text x="421.20" y="17.30" font-size="10.60" textLength="112.36" lengthAdjust="spacingAndGlyphs" transform="rotate(90 421.20 17.30)">Energy difference (eV)</text>
<text x="215.70" y="15.20" font-size="20.00" textLength="12.06" lengthAdjust="spacingAndGlyphs">b</text>
<defs><clipPath id="cc1"><rect x="43.50" y="193.50" width="158.00" height="63.00"/></clipPath><clipPath id="cc2"><rect x="43.50" y="298.50" width="158.00" height="63.00"/></clipPath></defs>
<line x1="75.10" y1="193.50" x2="75.10" y2="256.50" stroke="#e6e6e6" stroke-width="0.7"/>
<line x1="106.70" y1="193.50" x2="106.70" y2="256.50" stroke="#e6e6e6" stroke-width="0.7"/>
<line x1="138.30" y1="193.50" x2="138.30" y2="256.50" stroke="#e6e6e6" stroke-width="0.7"/>
<line x1="169.90" y1="193.50" x2="169.90" y2="256.50" stroke="#e6e6e6" stroke-width="0.7"/>
<line x1="43.50" y1="205.30" x2="201.50" y2="205.30" stroke="#e6e6e6" stroke-width="0.7"/>
<line x1="43.50" y1="225.45" x2="201.50" y2="225.45" stroke="#e6e6e6" stroke-width="0.7"/>
<line x1="43.50" y1="245.60" x2="201.50" y2="245.60" stroke="#e6e6e6" stroke-width="0.7"/>
<g clip-path="url(#cc1)">
<path d="M43.50,221.50 L44.29,224.57 L45.09,227.51 L45.88,230.28 L46.68,232.93 L47.47,235.52 L48.26,238.00 L49.06,240.28 L49.85,242.29 L50.65,244.14 L51.44,245.90 L52.23,247.51 L53.03,248.89 L53.82,249.99 L54.62,250.89 L55.41,251.74 L56.20,252.49 L57.00,253.04 L57.79,253.32 L58.59,253.25 L59.38,252.88 L60.17,252.29 L60.97,251.59 L61.76,250.83 L62.56,249.85 L63.35,248.60 L64.14,247.17 L64.94,245.62 L65.73,244.00 L66.53,242.15 L67.32,240.04 L68.11,237.82 L68.91,235.63 L69.70,233.60 L70.49,231.66 L71.29,229.77 L72.08,227.89 L72.88,225.99 L73.67,224.02 L74.46,221.87 L75.26,219.62 L76.05,217.44 L76.85,215.51 L77.64,213.97 L78.43,212.61 L79.23,211.37 L80.02,210.26 L80.82,209.31 L81.61,208.51 L82.40,207.79 L83.20,207.14 L83.99,206.54 L84.79,206.00 L85.58,205.51 L86.37,205.08 L87.17,204.71 L87.96,204.37 L88.76,204.06 L89.55,203.77 L90.34,203.51 L91.14,203.27 L91.93,203.06 L92.73,202.88 L93.52,202.72 L94.31,202.58 L95.11,202.45 L95.90,202.32 L96.70,202.21 L97.49,202.11 L98.28,202.01 L99.08,201.93 L99.87,201.87 L100.67,201.82 L101.46,201.77 L102.25,201.72 L103.05,201.68 L103.84,201.63 L104.64,201.60 L105.43,201.57 L106.22,201.54 L107.02,201.52 L107.81,201.51 L108.61,201.51 L109.40,201.52 L110.19,201.55 L110.99,201.58 L111.78,201.62 L112.58,201.66 L113.37,201.72 L114.16,201.77 L114.96,201.83 L115.75,201.88 L116.55,201.94 L117.34,202.01 L118.13,202.09 L118.93,202.17 L119.72,202.27 L120.52,202.37 L121.31,202.47 L122.10,202.58 L122.90,202.69 L123.69,202.79 L124.48,202.90 L125.28,203.00 L126.07,203.09 L126.87,203.19 L127.66,203.29 L128.45,203.39 L129.25,203.49 L130.04,203.59 L130.84,203.69 L131.63,203.79 L132.42,203.88 L133.22,203.97 L134.01,204.06 L134.81,204.14 L135.60,204.21 L136.39,204.29 L137.19,204.36 L137.98,204.43 L138.78,204.50 L139.57,204.57 L140.36,204.64 L141.16,204.70 L141.95,204.75 L142.75,204.80 L143.54,204.85 L144.33,204.89 L145.13,204.92 L145.92,204.95 L146.72,204.97 L147.51,205.00 L148.30,205.03 L149.10,205.05 L149.89,205.08 L150.69,205.10 L151.48,205.12 L152.27,205.14 L153.07,205.15 L153.86,205.17 L154.66,205.18 L155.45,205.20 L156.24,205.21 L157.04,205.22 L157.83,205.23 L158.63,205.23 L159.42,205.24 L160.21,205.25 L161.01,205.26 L161.80,205.26 L162.60,205.27 L163.39,205.27 L164.18,205.28 L164.98,205.28 L165.77,205.29 L166.57,205.29 L167.36,205.30 L168.15,205.30 L168.95,205.30 L169.74,205.30 L170.54,205.30 L171.33,205.30 L172.12,205.30 L172.92,205.30 L173.71,205.30 L174.51,205.30 L175.30,205.30 L176.09,205.30 L176.89,205.30 L177.68,205.30 L178.47,205.30 L179.27,205.30 L180.06,205.30 L180.86,205.30 L181.65,205.30 L182.44,205.30 L183.24,205.30 L184.03,205.30 L184.83,205.30 L185.62,205.30 L186.41,205.30 L187.21,205.30 L188.00,205.30 L188.80,205.30 L189.59,205.30 L190.38,205.30 L191.18,205.30 L191.97,205.30 L192.77,205.30 L193.56,205.30 L194.35,205.30 L195.15,205.30 L195.94,205.30 L196.74,205.30 L197.53,205.30 L198.32,205.30 L199.12,205.30 L199.91,205.30 L200.71,205.30 L201.50,205.30" fill="none" stroke="#2e6dff" stroke-width="2.4" stroke-linejoin="round" stroke-linecap="butt"/>
<path d="M43.50,219.49 L44.29,219.38 L45.09,219.27 L45.88,219.15 L46.68,219.03 L47.47,218.90 L48.26,218.76 L49.06,218.62 L49.85,218.47 L50.65,218.32 L51.44,218.17 L52.23,218.01 L53.03,217.84 L53.82,217.67 L54.62,217.48 L55.41,217.29 L56.20,217.09 L57.00,216.89 L57.79,216.68 L58.59,216.47 L59.38,216.25 L60.17,216.02 L60.97,215.79 L61.76,215.55 L62.56,215.31 L63.35,215.05 L64.14,214.79 L64.94,214.52 L65.73,214.25 L66.53,213.96 L67.32,213.67 L68.11,213.38 L68.91,213.06 L69.70,212.74 L70.49,212.40 L71.29,212.05 L72.08,211.70 L72.88,211.35 L73.67,210.99 L74.46,210.64 L75.26,210.29 L76.05,209.94 L76.85,209.58 L77.64,209.23 L78.43,208.87 L79.23,208.52 L80.02,208.16 L80.82,207.80 L81.61,207.44 L82.40,207.08 L83.20,206.72 L83.99,206.37 L84.79,206.01 L85.58,205.65 L86.37,205.29 L87.17,204.93 L87.96,204.57 L88.76,204.21 L89.55,203.86 L90.34,203.50 L91.14,203.16 L91.93,202.81 L92.73,202.47 L93.52,202.12 L94.31,201.77 L95.11,201.43 L95.90,201.09 L96.70,200.76 L97.49,200.44 L98.28,200.13 L99.08,199.83 L99.87,199.54 L100.67,199.24 L101.46,198.94 L102.25,198.64 L103.05,198.35 L103.84,198.08 L104.64,197.83 L105.43,197.60 L106.22,197.40 L107.02,197.24 L107.81,197.10 L108.61,196.95 L109.40,196.81 L110.19,196.68 L110.99,196.56 L111.78,196.44 L112.58,196.34 L113.37,196.26 L114.16,196.19 L114.96,196.14 L115.75,196.12 L116.55,196.11 L117.34,196.12 L118.13,196.14 L118.93,196.17 L119.72,196.20 L120.52,196.24 L121.31,196.28 L122.10,196.33 L122.90,196.38 L123.69,196.47 L124.48,196.60 L125.28,196.75 L126.07,196.93 L126.87,197.13 L127.66,197.35 L128.45,197.58 L129.25,197.81 L130.04,198.05 L130.84,198.28 L131.63,198.51 L132.42,198.74 L133.22,198.98 L134.01,199.23 L134.81,199.50 L135.60,199.77 L136.39,200.03 L137.19,200.29 L137.98,200.53 L138.78,200.76 L139.57,200.99 L140.36,201.21 L141.16,201.43 L141.95,201.64 L142.75,201.85 L143.54,202.06 L144.33,202.25 L145.13,202.45 L145.92,202.64 L146.72,202.81 L147.51,202.99 L148.30,203.15 L149.10,203.31 L149.89,203.47 L150.69,203.63 L151.48,203.77 L152.27,203.91 L153.07,204.03 L153.86,204.14 L154.66,204.24 L155.45,204.33 L156.24,204.42 L157.04,204.51 L157.83,204.59 L158.63,204.67 L159.42,204.74 L160.21,204.81 L161.01,204.87 L161.80,204.93 L162.60,204.99 L163.39,205.05 L164.18,205.10 L164.98,205.15 L165.77,205.20 L166.57,205.25 L167.36,205.30 L168.15,205.33 L168.95,205.36 L169.74,205.38 L170.54,205.39 L171.33,205.39 L172.12,205.40 L172.92,205.41 L173.71,205.42 L174.51,205.42 L175.30,205.43 L176.09,205.43 L176.89,205.44 L177.68,205.44 L178.47,205.44 L179.27,205.45 L180.06,205.45 L180.86,205.45 L181.65,205.46 L182.44,205.46 L183.24,205.46 L184.03,205.46 L184.83,205.46 L185.62,205.46 L186.41,205.46 L187.21,205.46 L188.00,205.46 L188.80,205.45 L189.59,205.45 L190.38,205.44 L191.18,205.44 L191.97,205.43 L192.77,205.42 L193.56,205.42 L194.35,205.41 L195.15,205.40 L195.94,205.39 L196.74,205.38 L197.53,205.37 L198.32,205.35 L199.12,205.34 L199.91,205.33 L200.71,205.31 L201.50,205.30" fill="none" stroke="#b8860b" stroke-width="1.3" stroke-linejoin="round" stroke-linecap="butt"/>
<path d="M43.50,232.30 L44.29,232.22 L45.09,232.09 L45.88,231.93 L46.68,231.74 L47.47,231.52 L48.26,231.28 L49.06,231.03 L49.85,230.76 L50.65,230.46 L51.44,230.10 L52.23,229.69 L53.03,229.24 L53.82,228.75 L54.62,228.23 L55.41,227.68 L56.20,227.10 L57.00,226.45 L57.79,225.74 L58.59,224.96 L59.38,224.15 L60.17,223.30 L60.97,222.44 L61.76,221.57 L62.56,220.68 L63.35,219.71 L64.14,218.71 L64.94,217.69 L65.73,216.68 L66.53,215.71 L67.32,214.79 L68.11,213.92 L68.91,213.08 L69.70,212.25 L70.49,211.44 L71.29,210.67 L72.08,209.93 L72.88,209.22 L73.67,208.56 L74.46,207.90 L75.26,207.24 L76.05,206.60 L76.85,206.00 L77.64,205.47 L78.43,205.04 L79.23,204.73 L80.02,204.48 L80.82,204.25 L81.61,204.04 L82.40,203.85 L83.20,203.70 L83.99,203.59 L84.79,203.54 L85.58,203.53 L86.37,203.55 L87.17,203.58 L87.96,203.63 L88.76,203.69 L89.55,203.75 L90.34,203.81 L91.14,203.87 L91.93,203.93 L92.73,203.99 L93.52,204.06 L94.31,204.13 L95.11,204.21 L95.90,204.28 L96.70,204.36 L97.49,204.43 L98.28,204.50 L99.08,204.57 L99.87,204.64 L100.67,204.70 L101.46,204.77 L102.25,204.84 L103.05,204.91 L103.84,204.97 L104.64,205.03 L105.43,205.08 L106.22,205.12 L107.02,205.15 L107.81,205.18 L108.61,205.21 L109.40,205.24 L110.19,205.27 L110.99,205.30 L111.78,205.33 L112.58,205.36 L113.37,205.38 L114.16,205.41 L114.96,205.43 L115.75,205.45 L116.55,205.47 L117.34,205.49 L118.13,205.50 L118.93,205.51 L119.72,205.53 L120.52,205.53 L121.31,205.54 L122.10,205.54 L122.90,205.54 L123.69,205.54 L124.48,205.54 L125.28,205.54 L126.07,205.53 L126.87,205.53 L127.66,205.53 L128.45,205.52 L129.25,205.52 L130.04,205.51 L130.84,205.51 L131.63,205.50 L132.42,205.50 L133.22,205.49 L134.01,205.49 L134.81,205.48 L135.60,205.48 L136.39,205.47 L137.19,205.47 L137.98,205.46 L138.78,205.46 L139.57,205.45 L140.36,205.45 L141.16,205.45 L141.95,205.44 L142.75,205.44 L143.54,205.43 L144.33,205.43 L145.13,205.42 L145.92,205.42 L146.72,205.41 L147.51,205.40 L148.30,205.40 L149.10,205.39 L149.89,205.39 L150.69,205.38 L151.48,205.38 L152.27,205.37 L153.07,205.37 L153.86,205.36 L154.66,205.36 L155.45,205.35 L156.24,205.35 L157.04,205.34 L157.83,205.34 L158.63,205.33 L159.42,205.33 L160.21,205.33 L161.01,205.32 L161.80,205.32 L162.60,205.32 L163.39,205.31 L164.18,205.31 L164.98,205.31 L165.77,205.31 L166.57,205.30 L167.36,205.30 L168.15,205.30 L168.95,205.30 L169.74,205.30 L170.54,205.30 L171.33,205.30 L172.12,205.30 L172.92,205.30 L173.71,205.30 L174.51,205.30 L175.30,205.30 L176.09,205.30 L176.89,205.30 L177.68,205.30 L178.47,205.30 L179.27,205.30 L180.06,205.30 L180.86,205.30 L181.65,205.30 L182.44,205.30 L183.24,205.30 L184.03,205.30 L184.83,205.30 L185.62,205.30 L186.41,205.30 L187.21,205.30 L188.00,205.30 L188.80,205.30 L189.59,205.30 L190.38,205.30 L191.18,205.30 L191.97,205.30 L192.77,205.30 L193.56,205.30 L194.35,205.30 L195.15,205.30 L195.94,205.30 L196.74,205.30 L197.53,205.30 L198.32,205.30 L199.12,205.30 L199.91,205.30 L200.71,205.30 L201.50,205.30" fill="none" stroke="#707070" stroke-width="1.2" stroke-linejoin="round" stroke-linecap="butt" stroke-dasharray="4.8 1.8 1.3 1.8"/>
</g>
<rect x="43.50" y="193.50" width="158.00" height="63.00" fill="none" stroke="#1a1a1a" stroke-width="1.0"/>
<line x1="40.50" y1="205.30" x2="43.50" y2="205.30" stroke="#1a1a1a" stroke-width="0.8"/>
<text x="38.90" y="208.75" font-size="10.07" text-anchor="end" textLength="6.04" lengthAdjust="spacingAndGlyphs">0</text>
<line x1="40.50" y1="225.45" x2="43.50" y2="225.45" stroke="#1a1a1a" stroke-width="0.8"/>
<text x="38.90" y="228.90" font-size="10.07" text-anchor="end" textLength="20.05" lengthAdjust="spacingAndGlyphs">−25</text>
<line x1="40.50" y1="245.60" x2="43.50" y2="245.60" stroke="#1a1a1a" stroke-width="0.8"/>
<text x="38.90" y="249.05" font-size="10.07" text-anchor="end" textLength="20.05" lengthAdjust="spacingAndGlyphs">−50</text>
<line x1="43.50" y1="256.50" x2="43.50" y2="259.50" stroke="#1a1a1a" stroke-width="0.8"/>
<text x="43.50" y="270.00" font-size="10.07" text-anchor="middle" textLength="6.04" lengthAdjust="spacingAndGlyphs">0</text>
<line x1="75.10" y1="256.50" x2="75.10" y2="259.50" stroke="#1a1a1a" stroke-width="0.8"/>
<text x="75.10" y="270.00" font-size="10.07" text-anchor="middle" textLength="6.04" lengthAdjust="spacingAndGlyphs">1</text>
<line x1="106.70" y1="256.50" x2="106.70" y2="259.50" stroke="#1a1a1a" stroke-width="0.8"/>
<text x="106.70" y="270.00" font-size="10.07" text-anchor="middle" textLength="6.04" lengthAdjust="spacingAndGlyphs">2</text>
<line x1="138.30" y1="256.50" x2="138.30" y2="259.50" stroke="#1a1a1a" stroke-width="0.8"/>
<text x="138.30" y="270.00" font-size="10.07" text-anchor="middle" textLength="6.04" lengthAdjust="spacingAndGlyphs">3</text>
<line x1="169.90" y1="256.50" x2="169.90" y2="259.50" stroke="#1a1a1a" stroke-width="0.8"/>
<text x="169.90" y="270.00" font-size="10.07" text-anchor="middle" textLength="6.04" lengthAdjust="spacingAndGlyphs">4</text>
<line x1="201.50" y1="256.50" x2="201.50" y2="259.50" stroke="#1a1a1a" stroke-width="0.8"/>
<text x="201.50" y="270.00" font-size="10.07" text-anchor="middle" textLength="6.04" lengthAdjust="spacingAndGlyphs">5</text>
<text x="95.00" y="282.7" font-size="10.1" textLength="38.26" lengthAdjust="spacingAndGlyphs">G (Bohr</text>
<text x="133.56" y="278.6" font-size="7.1" textLength="10.32" lengthAdjust="spacingAndGlyphs">−1</text>
<text x="144.18" y="282.7" font-size="10.1" textLength="3.90" lengthAdjust="spacingAndGlyphs">)</text>
<g transform="rotate(-90 14.60 247.16)">
<text x="14.60" y="247.16" font-size="9" font-style="italic" textLength="5.21" lengthAdjust="spacingAndGlyphs">v</text>
<text x="19.81" y="247.16" font-size="9" textLength="39.91" lengthAdjust="spacingAndGlyphs">(G) (a.u.)</text>
</g>
<line x1="96.16" y1="298.50" x2="96.16" y2="361.50" stroke="#e6e6e6" stroke-width="0.7"/>
<line x1="148.82" y1="298.50" x2="148.82" y2="361.50" stroke="#e6e6e6" stroke-width="0.7"/>
<line x1="43.50" y1="350.90" x2="201.50" y2="350.90" stroke="#e6e6e6" stroke-width="0.7"/>
<line x1="43.50" y1="330.80" x2="201.50" y2="330.80" stroke="#e6e6e6" stroke-width="0.7"/>
<line x1="43.50" y1="310.70" x2="201.50" y2="310.70" stroke="#e6e6e6" stroke-width="0.7"/>
<g clip-path="url(#cc2)">
<path d="M43.50,340.05 L44.29,340.19 L45.09,340.36 L45.88,340.54 L46.68,340.75 L47.47,340.97 L48.26,341.20 L49.06,341.45 L49.85,341.72 L50.64,341.99 L51.44,342.27 L52.23,342.58 L53.03,342.91 L53.82,343.28 L54.61,343.67 L55.41,344.08 L56.20,344.50 L57.00,344.94 L57.79,345.38 L58.58,345.82 L59.38,346.27 L60.17,346.74 L60.97,347.24 L61.76,347.76 L62.55,348.29 L63.35,348.82 L64.14,349.34 L64.93,349.86 L65.73,350.35 L66.52,350.82 L67.32,351.26 L68.11,351.69 L68.90,352.11 L69.70,352.53 L70.49,352.93 L71.29,353.32 L72.08,353.71 L72.87,354.08 L73.67,354.44 L74.46,354.79 L75.25,355.13 L76.05,355.48 L76.84,355.83 L77.64,356.16 L78.43,356.48 L79.22,356.78 L80.02,357.06 L80.81,357.31 L81.61,357.52 L82.40,357.71 L83.19,357.90 L83.99,358.08 L84.78,358.25 L85.58,358.38 L86.37,358.48 L87.16,358.53 L87.96,358.52 L88.75,358.45 L89.54,358.32 L90.34,358.16 L91.13,357.97 L91.93,357.78 L92.72,357.59 L93.51,357.42 L94.31,357.24 L95.10,357.05 L95.90,356.86 L96.69,356.65 L97.48,356.44 L98.28,356.23 L99.07,356.03 L99.86,355.82 L100.66,355.62 L101.45,355.42 L102.25,355.21 L103.04,355.00 L103.83,354.79 L104.63,354.58 L105.42,354.37 L106.22,354.18 L107.01,353.99 L107.80,353.81 L108.60,353.65 L109.39,353.49 L110.19,353.34 L110.98,353.20 L111.77,353.06 L112.57,352.93 L113.36,352.80 L114.15,352.67 L114.95,352.55 L115.74,352.43 L116.54,352.31 L117.33,352.20 L118.12,352.08 L118.92,351.97 L119.71,351.86 L120.51,351.75 L121.30,351.65 L122.09,351.56 L122.89,351.47 L123.68,351.39 L124.47,351.31 L125.27,351.24 L126.06,351.17 L126.86,351.10 L127.65,351.03 L128.44,350.96 L129.24,350.90 L130.03,350.84 L130.83,350.78 L131.62,350.72 L132.41,350.67 L133.21,350.62 L134.00,350.58 L134.79,350.54 L135.59,350.50 L136.38,350.47 L137.18,350.43 L137.97,350.40 L138.76,350.37 L139.56,350.34 L140.35,350.31 L141.15,350.28 L141.94,350.26 L142.73,350.23 L143.53,350.21 L144.32,350.19 L145.12,350.17 L145.91,350.15 L146.70,350.13 L147.50,350.12 L148.29,350.10 L149.08,350.09 L149.88,350.08 L150.67,350.07 L151.47,350.06 L152.26,350.05 L153.05,350.04 L153.85,350.03 L154.64,350.02 L155.44,350.02 L156.23,350.01 L157.02,350.00 L157.82,349.99 L158.61,349.98 L159.40,349.98 L160.20,349.97 L160.99,349.96 L161.79,349.95 L162.58,349.95 L163.37,349.94 L164.17,349.94 L164.96,349.93 L165.76,349.93 L166.55,349.92 L167.34,349.92 L168.14,349.91 L168.93,349.91 L169.73,349.91 L170.52,349.90 L171.31,349.90 L172.11,349.90 L172.90,349.90 L173.69,349.90 L174.49,349.90 L175.28,349.89 L176.08,349.89 L176.87,349.89 L177.66,349.89 L178.46,349.89 L179.25,349.89 L180.05,349.89 L180.84,349.89 L181.63,349.89 L182.43,349.89 L183.22,349.89 L184.01,349.89 L184.81,349.89 L185.60,349.89 L186.40,349.89 L187.19,349.89 L187.98,349.89 L188.78,349.89 L189.57,349.89 L190.37,349.89 L191.16,349.89 L191.95,349.89 L192.75,349.89 L193.54,349.89 L194.34,349.89 L195.13,349.89 L195.92,349.89 L196.72,349.89 L197.51,349.89 L198.30,349.89 L199.10,349.89 L199.89,349.89 L200.69,349.89 L201.48,349.89" fill="none" stroke="#2e6dff" stroke-width="2.4" stroke-linejoin="round" stroke-linecap="butt"/>
<path d="M43.50,301.05 L44.29,301.33 L45.09,301.70 L45.88,302.14 L46.68,302.64 L47.47,303.19 L48.26,303.80 L49.06,304.53 L49.85,305.37 L50.64,306.28 L51.44,307.23 L52.23,308.24 L53.03,309.34 L53.82,310.52 L54.61,311.74 L55.41,313.01 L56.20,314.33 L57.00,315.73 L57.79,317.19 L58.58,318.68 L59.38,320.21 L60.17,321.81 L60.97,323.46 L61.76,325.12 L62.55,326.75 L63.35,328.32 L64.14,329.87 L64.93,331.40 L65.73,332.92 L66.52,334.44 L67.32,335.95 L68.11,337.45 L68.90,338.94 L69.70,340.42 L70.49,341.91 L71.29,343.44 L72.08,345.01 L72.87,346.53 L73.67,347.96 L74.46,349.22 L75.25,350.37 L76.05,351.44 L76.84,352.43 L77.64,353.34 L78.43,354.17 L79.22,354.96 L80.02,355.71 L80.81,356.36 L81.61,356.89 L82.40,357.34 L83.19,357.78 L83.99,358.19 L84.78,358.52 L85.58,358.75 L86.37,358.84 L87.16,358.83 L87.96,358.80 L88.75,358.75 L89.54,358.69 L90.34,358.62 L91.13,358.54 L91.93,358.42 L92.72,358.23 L93.51,357.99 L94.31,357.70 L95.10,357.39 L95.90,357.06 L96.69,356.73 L97.48,356.41 L98.28,356.04 L99.07,355.64 L99.86,355.22 L100.66,354.79 L101.45,354.37 L102.25,353.96 L103.04,353.57 L103.83,353.18 L104.63,352.79 L105.42,352.40 L106.22,352.03 L107.01,351.68 L107.80,351.37 L108.60,351.09 L109.39,350.85 L110.19,350.61 L110.98,350.39 L111.77,350.19 L112.57,350.00 L113.36,349.83 L114.15,349.68 L114.95,349.52 L115.74,349.37 L116.54,349.21 L117.33,349.08 L118.12,348.98 L118.92,348.91 L119.71,348.89 L120.51,348.90 L121.30,348.93 L122.09,348.96 L122.89,349.01 L123.68,349.06 L124.47,349.11 L125.27,349.17 L126.06,349.22 L126.86,349.27 L127.65,349.32 L128.44,349.36 L129.24,349.41 L130.03,349.46 L130.83,349.51 L131.62,349.56 L132.41,349.62 L133.21,349.67 L134.00,349.71 L134.79,349.76 L135.59,349.80 L136.38,349.83 L137.18,349.86 L137.97,349.89 L138.76,349.91 L139.56,349.92 L140.35,349.94 L141.15,349.95 L141.94,349.97 L142.73,349.98 L143.53,350.00 L144.32,350.01 L145.12,350.02 L145.91,350.03 L146.70,350.04 L147.50,350.05 L148.29,350.06 L149.08,350.07 L149.88,350.08 L150.67,350.08 L151.47,350.09 L152.26,350.09 L153.05,350.09 L153.85,350.10 L154.64,350.10 L155.44,350.10 L156.23,350.10 L157.02,350.10 L157.82,350.10 L158.61,350.10 L159.40,350.10 L160.20,350.10 L160.99,350.10 L161.79,350.10 L162.58,350.10 L163.37,350.10 L164.17,350.10 L164.96,350.10 L165.76,350.10 L166.55,350.10 L167.34,350.10 L168.14,350.10 L168.93,350.10 L169.73,350.10 L170.52,350.10 L171.31,350.10 L172.11,350.10 L172.90,350.10 L173.69,350.10 L174.49,350.10 L175.28,350.10 L176.08,350.10 L176.87,350.10 L177.66,350.10 L178.46,350.10 L179.25,350.10 L180.05,350.10 L180.84,350.10 L181.63,350.10 L182.43,350.10 L183.22,350.10 L184.01,350.10 L184.81,350.10 L185.60,350.10 L186.40,350.10 L187.19,350.10 L187.98,350.10 L188.78,350.10 L189.57,350.10 L190.37,350.10 L191.16,350.10 L191.95,350.10 L192.75,350.10 L193.54,350.10 L194.34,350.10 L195.13,350.10 L195.92,350.10 L196.72,350.10 L197.51,350.10 L198.30,350.10 L199.10,350.10 L199.89,350.10 L200.69,350.10 L201.48,350.10" fill="none" stroke="#b8860b" stroke-width="1.3" stroke-linejoin="round" stroke-linecap="butt"/>
<line x1="43.50" y1="351.40" x2="201.50" y2="351.10" stroke="#707070" stroke-width="1.2" stroke-dasharray="4.8 1.8 1.3 1.8"/>
</g>
<rect x="43.50" y="298.50" width="158.00" height="63.00" fill="none" stroke="#1a1a1a" stroke-width="1.0"/>
<line x1="40.50" y1="350.90" x2="43.50" y2="350.90" stroke="#1a1a1a" stroke-width="0.8"/>
<text x="38.90" y="354.35" font-size="10.07" text-anchor="end" textLength="6.04" lengthAdjust="spacingAndGlyphs">0</text>
<line x1="40.50" y1="330.80" x2="43.50" y2="330.80" stroke="#1a1a1a" stroke-width="0.8"/>
<text x="38.90" y="334.25" font-size="10.07" text-anchor="end" textLength="6.04" lengthAdjust="spacingAndGlyphs">2</text>
<line x1="40.50" y1="310.70" x2="43.50" y2="310.70" stroke="#1a1a1a" stroke-width="0.8"/>
<text x="38.90" y="314.15" font-size="10.07" text-anchor="end" textLength="6.04" lengthAdjust="spacingAndGlyphs">4</text>
<line x1="43.50" y1="361.50" x2="43.50" y2="364.50" stroke="#1a1a1a" stroke-width="0.8"/>
<text x="43.50" y="375.00" font-size="10.07" text-anchor="middle" textLength="6.04" lengthAdjust="spacingAndGlyphs">0</text>
<line x1="96.16" y1="361.50" x2="96.16" y2="364.50" stroke="#1a1a1a" stroke-width="0.8"/>
<text x="96.16" y="375.00" font-size="10.07" text-anchor="middle" textLength="6.04" lengthAdjust="spacingAndGlyphs">2</text>
<line x1="148.82" y1="361.50" x2="148.82" y2="364.50" stroke="#1a1a1a" stroke-width="0.8"/>
<text x="148.82" y="375.00" font-size="10.07" text-anchor="middle" textLength="6.04" lengthAdjust="spacingAndGlyphs">4</text>
<line x1="201.48" y1="361.50" x2="201.48" y2="364.50" stroke="#1a1a1a" stroke-width="0.8"/>
<text x="201.48" y="375.00" font-size="10.07" text-anchor="middle" textLength="6.04" lengthAdjust="spacingAndGlyphs">6</text>
<text x="122.30" y="386.40" font-size="10.60" text-anchor="middle" textLength="38.52" lengthAdjust="spacingAndGlyphs">r (Bohr)</text>
<g transform="rotate(-90 28.80 350.96)">
<text x="28.80" y="350.96" font-size="9" font-style="italic" textLength="5.21" lengthAdjust="spacingAndGlyphs">v</text>
<text x="34.01" y="350.96" font-size="9" textLength="36.71" lengthAdjust="spacingAndGlyphs">(r) (a.u.)</text>
</g>
<text x="-0.80" y="196.20" font-size="20.00" textLength="10.45" lengthAdjust="spacingAndGlyphs">c</text>
<line x1="318.43" y1="193.50" x2="318.43" y2="257.50" stroke="#cfcfcf" stroke-width="0.8" stroke-dasharray="1 1.05"/>
<line x1="351.75" y1="193.50" x2="351.75" y2="257.50" stroke="#cfcfcf" stroke-width="0.8" stroke-dasharray="1 1.05"/>
<line x1="385.08" y1="193.50" x2="385.08" y2="257.50" stroke="#cfcfcf" stroke-width="0.8" stroke-dasharray="1 1.05"/>
<line x1="284.50" y1="199.30" x2="418.50" y2="199.30" stroke="#cfcfcf" stroke-width="0.8" stroke-dasharray="1 1.05"/>
<line x1="284.50" y1="212.15" x2="418.50" y2="212.15" stroke="#cfcfcf" stroke-width="0.8" stroke-dasharray="1 1.05"/>
<line x1="284.50" y1="225.00" x2="418.50" y2="225.00" stroke="#cfcfcf" stroke-width="0.8" stroke-dasharray="1 1.05"/>
<line x1="284.50" y1="237.85" x2="418.50" y2="237.85" stroke="#cfcfcf" stroke-width="0.8" stroke-dasharray="1 1.05"/>
<line x1="284.50" y1="250.70" x2="418.50" y2="250.70" stroke="#cfcfcf" stroke-width="0.8" stroke-dasharray="1 1.05"/>
<path d="M407.50,194.50 L408.62,197.95 L412.26,197.95 L409.32,200.09 L410.44,203.55 L407.50,201.41 L404.56,203.55 L405.68,200.09 L402.74,197.95 L406.38,197.95Z" fill="#c34a4a" stroke="#c34a4a" stroke-width="0.60" stroke-linejoin="miter"/>
<path d="M407.40,196.90 L410.25,198.97 L409.16,202.33 L405.64,202.33 L404.55,198.97Z" fill="#2f45ec" stroke="#2f45ec" stroke-width="1.20" stroke-linejoin="round" fill-opacity="0.92"/>
<circle cx="407.30" cy="199.80" r="1.80" fill="#8a5a6a"/>
<path d="M319.90,207.65 L320.98,210.97 L324.47,210.97 L321.64,213.02 L322.72,216.33 L319.90,214.28 L317.08,216.33 L318.16,213.02 L315.33,210.97 L318.82,210.97Z" fill="#c34a4a" stroke="#c34a4a" stroke-width="0.60" stroke-linejoin="miter"/>
<path d="M320.60,209.75 L323.55,211.89 L322.42,215.36 L318.78,215.36 L317.65,211.89Z" fill="#2f45ec" stroke="#2f45ec" stroke-width="1.20" stroke-linejoin="round" fill-opacity="0.92"/>
<circle cx="320.20" cy="212.85" r="1.90" fill="#8a6060"/>
<path d="M310.00,220.50 L311.08,223.82 L314.57,223.82 L311.74,225.87 L312.82,229.18 L310.00,227.13 L307.18,229.18 L308.26,225.87 L305.43,223.82 L308.92,223.82Z" fill="#c34a4a" stroke="#c34a4a" stroke-width="0.60" stroke-linejoin="miter"/>
<path d="M310.40,222.20 L311.16,224.55 L313.63,224.55 L311.64,226.00 L312.40,228.35 L310.40,226.90 L308.40,228.35 L309.16,226.00 L307.17,224.55 L309.64,224.55Z" fill="#2f45ec" stroke="#2f45ec" stroke-width="1.10" stroke-linejoin="round" fill-opacity="0.95"/>
<circle cx="314.00" cy="225.50" r="1.80" fill="#b98444" fill-opacity="0.9"/>
<path d="M297.70,233.15 L298.82,236.60 L302.46,236.60 L299.52,238.74 L300.64,242.20 L297.70,240.06 L294.76,242.20 L295.88,238.74 L292.94,236.60 L296.58,236.60Z" fill="#c34a4a" stroke="#c34a4a" stroke-width="0.60" stroke-linejoin="miter"/>
<path d="M297.70,235.45 L300.55,237.52 L299.46,240.88 L295.94,240.88 L294.85,237.52Z" fill="#2f45ec" stroke="#2f45ec" stroke-width="1.20" stroke-linejoin="round" fill-opacity="0.92"/>
<circle cx="297.70" cy="238.55" r="1.90" fill="#8e5a5a"/>
<line x1="358.70" y1="251.00" x2="369.70" y2="251.00" stroke="#cfcfcf" stroke-width="2.2"/>
<circle cx="358.70" cy="251.00" r="1.90" fill="#b98444"/>
<path d="M374.30,245.60 L375.38,248.92 L378.87,248.92 L376.04,250.97 L377.12,254.28 L374.30,252.23 L371.48,254.28 L372.56,250.97 L369.73,248.92 L373.22,248.92Z" fill="#c34a4a" stroke="#c34a4a" stroke-width="0.60" stroke-linejoin="miter"/>
<circle cx="369.70" cy="250.90" r="3.00" fill="#3d6cf5" fill-opacity="0.9"/>
<rect x="334.30" y="202.70" width="26.70" height="12.90" fill="#fff" stroke="#b4b4b4" stroke-width="1.0"/>
<line x1="346.60" y1="209.30" x2="353.90" y2="209.30" stroke="#cfcfcf" stroke-width="1.6"/>
<path d="M340.70,206.30 L341.37,208.37 L343.55,208.37 L341.79,209.65 L342.46,211.73 L340.70,210.45 L338.94,211.73 L339.61,209.65 L337.85,208.37 L340.03,208.37Z" fill="#c34a4a" stroke="#c34a4a" stroke-width="0.60" stroke-linejoin="miter"/>
<circle cx="346.60" cy="209.30" r="1.10" fill="#b98444"/>
<circle cx="353.90" cy="209.30" r="1.80" fill="#3d6cf5"/>
<rect x="323.40" y="218.70" width="27.30" height="12.90" fill="#fff" stroke="#b4b4b4" stroke-width="1.0"/>
<line x1="335.40" y1="225.20" x2="344.10" y2="225.20" stroke="#cfcfcf" stroke-width="1.6"/>
<path d="M334.30,222.20 L334.97,224.27 L337.15,224.27 L335.39,225.55 L336.06,227.63 L334.30,226.35 L332.54,227.63 L333.21,225.55 L331.45,224.27 L333.63,224.27Z" fill="#c34a4a" stroke="#c34a4a" stroke-width="0.60" stroke-linejoin="miter"/>
<circle cx="335.50" cy="225.30" r="1.60" fill="#3d6cf5"/>
<circle cx="344.10" cy="225.20" r="1.10" fill="#b98444"/>
<rect x="311.30" y="234.40" width="27.00" height="13.00" fill="#fff" stroke="#b4b4b4" stroke-width="1.0"/>
<line x1="326.10" y1="241.10" x2="335.00" y2="241.10" stroke="#cfcfcf" stroke-width="1.6"/>
<path d="M319.00,238.00 L319.70,240.14 L321.95,240.14 L320.13,241.47 L320.82,243.61 L319.00,242.28 L317.18,243.61 L317.87,241.47 L316.05,240.14 L318.30,240.14Z" fill="#c34a4a" stroke="#c34a4a" stroke-width="0.60" stroke-linejoin="miter"/>
<circle cx="326.10" cy="241.10" r="1.80" fill="#3d6cf5"/>
<circle cx="335.00" cy="241.10" r="1.10" fill="#b98444"/>
<rect x="389.20" y="209.30" width="26.60" height="12.60" fill="#fff" stroke="#b4b4b4" stroke-width="1.0"/>
<path d="M404.00,212.50 L404.67,214.57 L406.85,214.57 L405.09,215.85 L405.76,217.93 L404.00,216.65 L402.24,217.93 L402.91,215.85 L401.15,214.57 L403.33,214.57Z" fill="#c34a4a" stroke="#c34a4a" stroke-width="0.60" stroke-linejoin="miter"/>
<circle cx="399.50" cy="215.50" r="1.80" fill="#3d6cf5"/>
<circle cx="399.70" cy="215.50" r="1.00" fill="#b98444" fill-opacity="0.7"/>
<rect x="284.50" y="193.50" width="134.00" height="64.00" fill="none" stroke="#1a1a1a" stroke-width="1.0"/>
<line x1="281.00" y1="199.30" x2="284.50" y2="199.30" stroke="#1a1a1a" stroke-width="0.8"/>
<text x="279.40" y="202.90" font-size="10.34" text-anchor="end" textLength="46.05" lengthAdjust="spacingAndGlyphs">CBM long</text>
<line x1="281.00" y1="212.15" x2="284.50" y2="212.15" stroke="#1a1a1a" stroke-width="0.8"/>
<text x="279.40" y="215.75" font-size="10.34" text-anchor="end" textLength="50.07" lengthAdjust="spacingAndGlyphs">CBM trans</text>
<line x1="281.00" y1="225.00" x2="284.50" y2="225.00" stroke="#1a1a1a" stroke-width="0.8"/>
<text x="279.40" y="228.60" font-size="10.34" text-anchor="end" textLength="50.07" lengthAdjust="spacingAndGlyphs">CBM trans</text>
<line x1="281.00" y1="237.85" x2="284.50" y2="237.85" stroke="#1a1a1a" stroke-width="0.8"/>
<text x="279.40" y="241.45" font-size="10.34" text-anchor="end" textLength="33.76" lengthAdjust="spacingAndGlyphs">VBM lh</text>
<line x1="281.00" y1="250.70" x2="284.50" y2="250.70" stroke="#1a1a1a" stroke-width="0.8"/>
<text x="279.40" y="254.30" font-size="10.34" text-anchor="end" textLength="37.23" lengthAdjust="spacingAndGlyphs">VBM hh</text>
<line x1="285.10" y1="257.50" x2="285.10" y2="261.00" stroke="#1a1a1a" stroke-width="0.8"/>
<text x="285.10" y="270.90" font-size="10.60" text-anchor="middle" textLength="22.27" lengthAdjust="spacingAndGlyphs">0.00</text>
<line x1="318.43" y1="257.50" x2="318.43" y2="261.00" stroke="#1a1a1a" stroke-width="0.8"/>
<text x="318.43" y="270.90" font-size="10.60" text-anchor="middle" textLength="22.27" lengthAdjust="spacingAndGlyphs">0.25</text>
<line x1="351.75" y1="257.50" x2="351.75" y2="261.00" stroke="#1a1a1a" stroke-width="0.8"/>
<text x="351.75" y="270.90" font-size="10.60" text-anchor="middle" textLength="22.27" lengthAdjust="spacingAndGlyphs">0.50</text>
<line x1="385.08" y1="257.50" x2="385.08" y2="261.00" stroke="#1a1a1a" stroke-width="0.8"/>
<text x="385.08" y="270.90" font-size="10.60" text-anchor="middle" textLength="22.27" lengthAdjust="spacingAndGlyphs">0.75</text>
<line x1="418.40" y1="257.50" x2="418.40" y2="261.00" stroke="#1a1a1a" stroke-width="0.8"/>
<text x="418.40" y="270.90" font-size="10.60" text-anchor="middle" textLength="22.27" lengthAdjust="spacingAndGlyphs">1.00</text>
<text x="329.40" y="283.70" font-size="10.60" font-style="italic" textLength="9.74" lengthAdjust="spacingAndGlyphs">m</text>
<text x="341.00" y="280.40" font-size="7.42" textLength="3.50" lengthAdjust="spacingAndGlyphs">*</text>
<text x="350.20" y="283.70" font-size="10.60" font-style="italic" textLength="3.90" lengthAdjust="spacingAndGlyphs">(</text>
<text x="353.40" y="283.70" font-size="10.60" font-style="italic" textLength="9.74" lengthAdjust="spacingAndGlyphs">m</text>
<text x="363.90" y="286.00" font-size="7.42" textLength="4.45" lengthAdjust="spacingAndGlyphs">0</text>
<text x="368.90" y="283.70" font-size="10.60" font-style="italic" textLength="3.90" lengthAdjust="spacingAndGlyphs">)</text>
<line x1="288.70" y1="300.50" x2="288.70" y2="364.20" stroke="#cfcfcf" stroke-width="0.8" stroke-dasharray="1 1.05"/>
<line x1="326.05" y1="300.50" x2="326.05" y2="364.20" stroke="#cfcfcf" stroke-width="0.8" stroke-dasharray="1 1.05"/>
<line x1="363.40" y1="300.50" x2="363.40" y2="364.20" stroke="#cfcfcf" stroke-width="0.8" stroke-dasharray="1 1.05"/>
<line x1="400.75" y1="300.50" x2="400.75" y2="364.20" stroke="#cfcfcf" stroke-width="0.8" stroke-dasharray="1 1.05"/>
<line x1="284.50" y1="310.70" x2="418.50" y2="310.70" stroke="#cfcfcf" stroke-width="0.8" stroke-dasharray="1 1.05"/>
<line x1="284.50" y1="331.90" x2="418.50" y2="331.90" stroke="#cfcfcf" stroke-width="0.8" stroke-dasharray="1 1.05"/>
<line x1="284.50" y1="353.10" x2="418.50" y2="353.10" stroke="#cfcfcf" stroke-width="0.8" stroke-dasharray="1 1.05"/>
<line x1="319.33" y1="310.70" x2="373.86" y2="310.70" stroke="#cfcfcf" stroke-width="2.4"/>
<circle cx="319.33" cy="310.70" r="1.90" fill="#b98444"/>
<path d="M373.86,305.50 L374.98,308.95 L378.61,308.95 L375.67,311.09 L376.80,314.55 L373.86,312.41 L370.92,314.55 L372.04,311.09 L369.10,308.95 L372.74,308.95Z" fill="#c34a4a" stroke="#c34a4a" stroke-width="0.60" stroke-linejoin="miter"/>
<path d="M373.86,307.10 L374.67,309.59 L377.28,309.59 L375.17,311.12 L375.97,313.61 L373.86,312.08 L371.74,313.61 L372.55,311.12 L370.43,309.59 L373.05,309.59Z" fill="#2f45ec" stroke="#2f45ec" stroke-width="1.20" stroke-linejoin="round" fill-opacity="0.95"/>
<line x1="319.33" y1="331.90" x2="402.99" y2="331.90" stroke="#cfcfcf" stroke-width="2.4"/>
<circle cx="319.33" cy="331.90" r="1.90" fill="#b98444"/>
<circle cx="402.99" cy="331.90" r="3.00" fill="#3d6cf5"/>
<path d="M412.70,326.70 L413.82,330.15 L417.46,330.15 L414.52,332.29 L415.64,335.75 L412.70,333.61 L409.76,335.75 L410.89,332.29 L407.95,330.15 L411.58,330.15Z" fill="#c34a4a" stroke="#c34a4a" stroke-width="0.60" stroke-linejoin="miter"/>
<line x1="290.19" y1="353.10" x2="353.69" y2="353.10" stroke="#cfcfcf" stroke-width="2.4"/>
<circle cx="290.19" cy="353.10" r="1.90" fill="#b98444"/>
<path d="M342.48,347.90 L343.61,351.35 L347.24,351.35 L344.30,353.49 L345.42,356.95 L342.48,354.81 L339.55,356.95 L340.67,353.49 L337.73,351.35 L341.36,351.35Z" fill="#c34a4a" stroke="#c34a4a" stroke-width="0.60" stroke-linejoin="miter"/>
<circle cx="353.69" cy="353.10" r="3.00" fill="#3d6cf5"/>
<rect x="284.50" y="300.50" width="134.00" height="63.70" fill="none" stroke="#1a1a1a" stroke-width="1.0"/>
<line x1="288.70" y1="364.20" x2="288.70" y2="367.70" stroke="#1a1a1a" stroke-width="0.8"/>
<text x="288.70" y="377.30" font-size="10.60" text-anchor="middle" textLength="21.10" lengthAdjust="spacingAndGlyphs">−10</text>
<line x1="326.05" y1="364.20" x2="326.05" y2="367.70" stroke="#1a1a1a" stroke-width="0.8"/>
<text x="326.05" y="377.30" font-size="10.60" text-anchor="middle" textLength="14.74" lengthAdjust="spacingAndGlyphs">−5</text>
<line x1="363.40" y1="364.20" x2="363.40" y2="367.70" stroke="#1a1a1a" stroke-width="0.8"/>
<text x="363.40" y="377.30" font-size="10.60" text-anchor="middle" textLength="6.36" lengthAdjust="spacingAndGlyphs">0</text>
<line x1="400.75" y1="364.20" x2="400.75" y2="367.70" stroke="#1a1a1a" stroke-width="0.8"/>
<text x="400.75" y="377.30" font-size="10.60" text-anchor="middle" textLength="6.36" lengthAdjust="spacingAndGlyphs">5</text>
<line x1="281.00" y1="310.70" x2="284.50" y2="310.70" stroke="#1a1a1a" stroke-width="0.8"/>
<line x1="281.00" y1="331.90" x2="284.50" y2="331.90" stroke="#1a1a1a" stroke-width="0.8"/>
<line x1="281.00" y1="353.10" x2="284.50" y2="353.10" stroke="#1a1a1a" stroke-width="0.8"/>
<text x="232.20" y="314.65" font-size="10.60" textLength="5.57" lengthAdjust="spacingAndGlyphs">Γ</text>
<text x="237.87" y="316.75" font-size="7.42" textLength="8.91" lengthAdjust="spacingAndGlyphs">15</text>
<text x="246.78" y="316.75" font-size="7.42" font-style="italic" textLength="4.14" lengthAdjust="spacingAndGlyphs">v</text>
<path d="M254.00,311.30 L261.50,311.30" stroke="#000" stroke-width="1.0" fill="none"/>
<path d="M258.90,309.20 L261.80,311.30 L258.90,313.40" stroke="#000" stroke-width="1.0" fill="none" stroke-linejoin="miter"/>
<text x="264.03" y="314.65" font-size="10.60" textLength="5.57" lengthAdjust="spacingAndGlyphs">Γ</text>
<text x="269.60" y="316.75" font-size="7.42" textLength="4.45" lengthAdjust="spacingAndGlyphs">1</text>
<text x="274.05" y="316.75" font-size="7.42" font-style="italic" textLength="3.85" lengthAdjust="spacingAndGlyphs">c</text>
<text x="230.92" y="335.85" font-size="10.60" textLength="5.57" lengthAdjust="spacingAndGlyphs">Γ</text>
<text x="236.59" y="337.95" font-size="7.42" textLength="8.91" lengthAdjust="spacingAndGlyphs">15</text>
<text x="245.50" y="337.95" font-size="7.42" font-style="italic" textLength="4.14" lengthAdjust="spacingAndGlyphs">v</text>
<path d="M252.72,332.50 L260.22,332.50" stroke="#000" stroke-width="1.0" fill="none"/>
<path d="M257.62,330.40 L260.52,332.50 L257.62,334.60" stroke="#000" stroke-width="1.0" fill="none" stroke-linejoin="miter"/>
<text x="262.75" y="335.85" font-size="10.60" font-style="italic" textLength="6.85" lengthAdjust="spacingAndGlyphs">X</text>
<text x="269.60" y="337.95" font-size="7.42" textLength="4.45" lengthAdjust="spacingAndGlyphs">1</text>
<text x="274.05" y="337.95" font-size="7.42" font-style="italic" textLength="3.85" lengthAdjust="spacingAndGlyphs">c</text>
<text x="232.20" y="357.05" font-size="10.60" textLength="5.57" lengthAdjust="spacingAndGlyphs">Γ</text>
<text x="237.87" y="359.15" font-size="7.42" textLength="8.91" lengthAdjust="spacingAndGlyphs">15</text>
<text x="246.78" y="359.15" font-size="7.42" font-style="italic" textLength="4.14" lengthAdjust="spacingAndGlyphs">v</text>
<path d="M254.00,353.70 L261.50,353.70" stroke="#000" stroke-width="1.0" fill="none"/>
<path d="M258.90,351.60 L261.80,353.70 L258.90,355.80" stroke="#000" stroke-width="1.0" fill="none" stroke-linejoin="miter"/>
<text x="264.03" y="357.05" font-size="10.60" font-style="italic" textLength="5.57" lengthAdjust="spacingAndGlyphs">L</text>
<text x="269.60" y="359.15" font-size="7.42" textLength="4.45" lengthAdjust="spacingAndGlyphs">1</text>
<text x="274.05" y="359.15" font-size="7.42" font-style="italic" textLength="3.85" lengthAdjust="spacingAndGlyphs">c</text>
<text x="351.20" y="388.40" font-size="9.22" text-anchor="middle" textLength="155.13" lengthAdjust="spacingAndGlyphs">Volume deformation potentials (eV)</text>
<text x="215.70" y="195.60" font-size="20.00" textLength="12.06" lengthAdjust="spacingAndGlyphs">d</text>
<defs><clipPath id="ce"><rect x="485.50" y="8.50" width="195.00" height="356.70"/></clipPath></defs>
<g clip-path="url(#ce)">
<path d="M494.20,23.50 L494.80,45.00 L495.50,75.00 L496.00,100.00 L497.50,117.00 L498.30,130.00 L500.00,160.00 L501.20,185.00 L502.40,208.00 L504.00,235.00 L505.50,260.00 L507.00,283.00 L508.50,298.00 L510.00,308.00 L512.00,314.50 L514.00,318.00 L516.20,320.00 L520.00,321.00 L539.30,321.40 L560.00,321.80 L582.90,322.40 L587.00,323.50 L591.00,326.00 L595.60,330.30 L600.00,336.50 L603.30,341.30 L606.00,343.80 L608.50,345.20 L615.00,346.60 L625.00,348.20 L640.00,350.60 L657.20,353.30 L665.00,355.20 L672.00,358.20" fill="none" stroke="#2e6dff" stroke-width="2.8" stroke-linejoin="round" stroke-linecap="butt"/>
<path d="M494.20,23.50 L495.20,100.00 L496.40,115.40 L500.10,116.40 L500.80,140.00 L502.40,208.60 L514.70,208.60 L514.70,214.40 L522.90,214.40 L522.90,215.40 L530.00,215.40 L530.00,231.80 L530.30,263.80 L531.60,263.80 L531.60,284.90 L542.40,284.90 L542.40,286.50 L582.40,286.50 L582.40,290.50 L585.90,290.50 L585.90,294.40 L588.00,294.40 L588.00,302.00 L603.30,302.00 L603.30,309.00 L605.10,309.00 L605.10,312.30 L606.40,312.30 L606.40,318.80 L672.10,318.80" fill="none" stroke="#b8860b" stroke-width="2.2" stroke-linejoin="round" stroke-linecap="butt" stroke-linejoin="miter"/>
<path d="M494.20,23.50 L494.50,25.47 L494.80,27.42 L495.10,29.35 L495.40,31.27 L495.70,33.16 L496.01,35.03 L496.31,36.91 L496.61,38.80 L496.91,40.67 L497.21,42.51 L497.51,44.29 L497.81,45.99 L498.11,47.58 L498.41,49.10 L498.71,50.58 L499.01,52.02 L499.31,53.40 L499.62,54.74 L499.92,56.03 L500.22,57.27 L500.52,58.46 L500.82,59.63 L501.12,60.77 L501.42,61.88 L501.72,62.95 L502.02,63.98 L502.32,64.96 L502.62,65.90 L502.92,66.79 L503.23,67.63 L503.53,68.44 L503.83,69.24 L504.13,70.00 L504.43,70.74 L504.73,71.44 L505.03,72.11 L505.33,72.75 L505.63,73.34 L505.93,73.88 L506.23,74.39 L506.53,74.88 L506.84,75.35 L507.14,75.80 L507.44,76.23 L507.74,76.65 L508.04,77.06 L508.34,77.44 L508.64,77.82 L508.94,78.18 L509.24,78.53 L509.54,78.87 L509.84,79.20 L510.14,79.53 L510.45,79.84 L510.75,80.15 L511.05,80.45 L511.35,80.75 L511.65,81.05 L511.95,81.33 L512.25,81.62 L512.55,81.89 L512.85,82.16 L513.15,82.43 L513.45,82.68 L513.75,82.93 L514.06,83.17 L514.36,83.40 L514.66,83.62 L514.96,83.84 L515.26,84.04 L515.56,84.24 L515.86,84.42 L516.16,84.59 L516.46,84.76 L516.76,84.93 L517.06,85.09 L517.36,85.25 L517.67,85.41 L517.97,85.56 L518.27,85.71 L518.57,85.85 L518.87,86.00 L519.17,86.14 L519.47,86.27 L519.77,86.40 L520.07,86.53 L520.37,86.65 L520.67,86.77 L520.97,86.89 L521.28,87.00 L521.58,87.11 L521.88,87.21 L522.18,87.31 L522.48,87.41 L522.78,87.50 L523.08,87.59 L523.38,87.67 L523.68,87.75 L523.98,87.83 L524.28,87.90 L524.58,87.98 L524.89,88.05 L525.19,88.12 L525.49,88.19 L525.79,88.26 L526.09,88.33 L526.39,88.39 L526.69,88.46 L526.99,88.52 L527.29,88.58 L527.59,88.64 L527.89,88.70 L528.19,88.76 L528.50,88.82 L528.80,88.88 L529.10,88.93 L529.40,88.98 L529.70,89.04 L530.00,89.09 L530.50,89.17 L531.92,89.39 L533.35,89.59 L534.77,89.77 L536.20,89.94 L537.62,90.10 L539.05,90.25 L540.47,90.39 L541.89,90.52 L543.32,90.64 L544.74,90.75 L546.17,90.84 L547.59,90.93 L549.02,91.00 L550.44,91.06 L551.86,91.12 L553.29,91.18 L554.71,91.23 L556.14,91.28 L557.56,91.33 L558.98,91.38 L560.41,91.42 L561.83,91.46 L563.26,91.50 L564.68,91.54 L566.11,91.58 L567.53,91.61 L568.95,91.65 L570.38,91.68 L571.80,91.71 L573.23,91.74 L574.65,91.77 L576.08,91.80 L577.50,91.83 L578.92,91.86 L580.35,91.90 L581.77,91.93 L583.20,91.96 L584.62,91.99 L586.05,92.02 L587.47,92.06 L588.89,92.09 L590.32,92.12 L591.74,92.15 L593.17,92.18 L594.59,92.21 L596.02,92.24 L597.44,92.27 L598.86,92.30 L600.29,92.33 L601.71,92.35 L603.14,92.38 L604.56,92.41 L605.98,92.44 L607.41,92.46 L608.83,92.49 L610.26,92.52 L611.68,92.54 L613.11,92.57 L614.53,92.60 L615.95,92.62 L617.38,92.65 L618.80,92.68 L620.23,92.71 L621.65,92.73 L623.08,92.76 L624.50,92.79 L625.92,92.82 L627.35,92.85 L628.77,92.87 L630.20,92.90 L631.62,92.93 L633.05,92.96 L634.47,92.99 L635.89,93.02 L637.32,93.05 L638.74,93.08 L640.17,93.11 L641.59,93.14 L643.02,93.17 L644.44,93.21 L645.86,93.24 L647.29,93.27 L648.71,93.30 L650.14,93.33 L651.56,93.36 L652.98,93.39 L654.41,93.42 L655.83,93.45 L657.26,93.48 L658.68,93.51 L660.11,93.55 L661.53,93.58 L662.95,93.61 L664.38,93.64 L665.80,93.67 L667.23,93.70 L668.65,93.74 L670.08,93.77 L671.50,93.80" fill="none" stroke="#5e5e5e" stroke-width="2.2" stroke-linejoin="round" stroke-linecap="butt" stroke-dasharray="13 3.3 2.2 3.3"/>
</g>
<rect x="520.6" y="14.7" width="153.7" height="52.0" rx="2.2" fill="#fff" fill-opacity="0.8" stroke="#d4d4d4" stroke-width="0.9"/>
<line x1="524.00" y1="23.50" x2="549.10" y2="23.50" stroke="#2e6dff" stroke-width="2.6"/>
<line x1="524.00" y1="40.00" x2="549.10" y2="40.00" stroke="#b8860b" stroke-width="2.2"/>
<line x1="524.50" y1="56.90" x2="549.10" y2="56.90" stroke="#5e5e5e" stroke-width="2.2" stroke-dasharray="13 3.3 2.2 3.3"/>
<text x="557.30" y="27.50" font-size="11.87" textLength="88.21" lengthAdjust="spacingAndGlyphs">DeepPseudopot</text>
<text x="557.30" y="44.00" font-size="11.87" textLength="112.16" lengthAdjust="spacingAndGlyphs">Simple function, MC</text>
<text x="557.30" y="60.90" font-size="11.87" textLength="111.98" lengthAdjust="spacingAndGlyphs">Simple function, GD</text>
<rect x="485.50" y="8.50" width="195.00" height="356.70" fill="none" stroke="#1a1a1a" stroke-width="1.0"/>
<line x1="485.50" y1="352.50" x2="489.00" y2="352.50" stroke="#1a1a1a" stroke-width="0.9"/>
<text x="464.30" y="356.80" font-size="11" textLength="14.00" lengthAdjust="spacingAndGlyphs">10</text>
<text x="478.30" y="352.00" font-size="7.8" textLength="4.90" lengthAdjust="spacingAndGlyphs">2</text>
<line x1="485.50" y1="220.30" x2="489.00" y2="220.30" stroke="#1a1a1a" stroke-width="0.9"/>
<text x="464.30" y="224.60" font-size="11" textLength="14.00" lengthAdjust="spacingAndGlyphs">10</text>
<text x="478.30" y="219.80" font-size="7.8" textLength="4.90" lengthAdjust="spacingAndGlyphs">3</text>
<line x1="485.50" y1="88.10" x2="489.00" y2="88.10" stroke="#1a1a1a" stroke-width="0.9"/>
<text x="464.30" y="92.40" font-size="11" textLength="14.00" lengthAdjust="spacingAndGlyphs">10</text>
<text x="478.30" y="87.60" font-size="7.8" textLength="4.90" lengthAdjust="spacingAndGlyphs">4</text>
<line x1="485.50" y1="358.55" x2="487.50" y2="358.55" stroke="#1a1a1a" stroke-width="0.7"/>
<line x1="485.50" y1="312.70" x2="487.50" y2="312.70" stroke="#1a1a1a" stroke-width="0.7"/>
<line x1="485.50" y1="289.42" x2="487.50" y2="289.42" stroke="#1a1a1a" stroke-width="0.7"/>
<line x1="485.50" y1="272.91" x2="487.50" y2="272.91" stroke="#1a1a1a" stroke-width="0.7"/>
<line x1="485.50" y1="260.10" x2="487.50" y2="260.10" stroke="#1a1a1a" stroke-width="0.7"/>
<line x1="485.50" y1="249.63" x2="487.50" y2="249.63" stroke="#1a1a1a" stroke-width="0.7"/>
<line x1="485.50" y1="240.78" x2="487.50" y2="240.78" stroke="#1a1a1a" stroke-width="0.7"/>
<line x1="485.50" y1="233.11" x2="487.50" y2="233.11" stroke="#1a1a1a" stroke-width="0.7"/>
<line x1="485.50" y1="226.35" x2="487.50" y2="226.35" stroke="#1a1a1a" stroke-width="0.7"/>
<line x1="485.50" y1="180.50" x2="487.50" y2="180.50" stroke="#1a1a1a" stroke-width="0.7"/>
<line x1="485.50" y1="157.22" x2="487.50" y2="157.22" stroke="#1a1a1a" stroke-width="0.7"/>
<line x1="485.50" y1="140.71" x2="487.50" y2="140.71" stroke="#1a1a1a" stroke-width="0.7"/>
<line x1="485.50" y1="127.90" x2="487.50" y2="127.90" stroke="#1a1a1a" stroke-width="0.7"/>
<line x1="485.50" y1="117.43" x2="487.50" y2="117.43" stroke="#1a1a1a" stroke-width="0.7"/>
<line x1="485.50" y1="108.58" x2="487.50" y2="108.58" stroke="#1a1a1a" stroke-width="0.7"/>
<line x1="485.50" y1="100.91" x2="487.50" y2="100.91" stroke="#1a1a1a" stroke-width="0.7"/>
<line x1="485.50" y1="94.15" x2="487.50" y2="94.15" stroke="#1a1a1a" stroke-width="0.7"/>
<line x1="485.50" y1="48.30" x2="487.50" y2="48.30" stroke="#1a1a1a" stroke-width="0.7"/>
<line x1="485.50" y1="25.02" x2="487.50" y2="25.02" stroke="#1a1a1a" stroke-width="0.7"/>
<line x1="485.50" y1="8.51" x2="487.50" y2="8.51" stroke="#1a1a1a" stroke-width="0.7"/>
<line x1="494.30" y1="365.20" x2="494.30" y2="361.70" stroke="#1a1a1a" stroke-width="0.9"/>
<text x="494.30" y="376.00" font-size="11.66" text-anchor="middle" textLength="7.00" lengthAdjust="spacingAndGlyphs">0</text>
<line x1="538.65" y1="365.20" x2="538.65" y2="361.70" stroke="#1a1a1a" stroke-width="0.9"/>
<text x="538.65" y="376.00" font-size="11.66" text-anchor="middle" textLength="21.00" lengthAdjust="spacingAndGlyphs">500</text>
<line x1="583.00" y1="365.20" x2="583.00" y2="361.70" stroke="#1a1a1a" stroke-width="0.9"/>
<text x="583.00" y="376.00" font-size="11.66" text-anchor="middle" textLength="27.99" lengthAdjust="spacingAndGlyphs">1000</text>
<line x1="627.35" y1="365.20" x2="627.35" y2="361.70" stroke="#1a1a1a" stroke-width="0.9"/>
<text x="627.35" y="376.00" font-size="11.66" text-anchor="middle" textLength="27.99" lengthAdjust="spacingAndGlyphs">1500</text>
<line x1="671.70" y1="365.20" x2="671.70" y2="361.70" stroke="#1a1a1a" stroke-width="0.9"/>
<text x="671.70" y="376.00" font-size="11.66" text-anchor="middle" textLength="27.99" lengthAdjust="spacingAndGlyphs">2000</text>
<text x="582.80" y="388.30" font-size="11.87" text-anchor="middle" textLength="53.34" lengthAdjust="spacingAndGlyphs">Iterations</text>
<text x="461.20" y="187.60" font-size="11.66" text-anchor="middle" textLength="68.15" lengthAdjust="spacingAndGlyphs" transform="rotate(-90 461.20 187.60)">Training loss</text>
<text x="448.20" y="15.20" font-size="20.00" textLength="11.69" lengthAdjust="spacingAndGlyphs">e</text>
</svg>
</body></html>
